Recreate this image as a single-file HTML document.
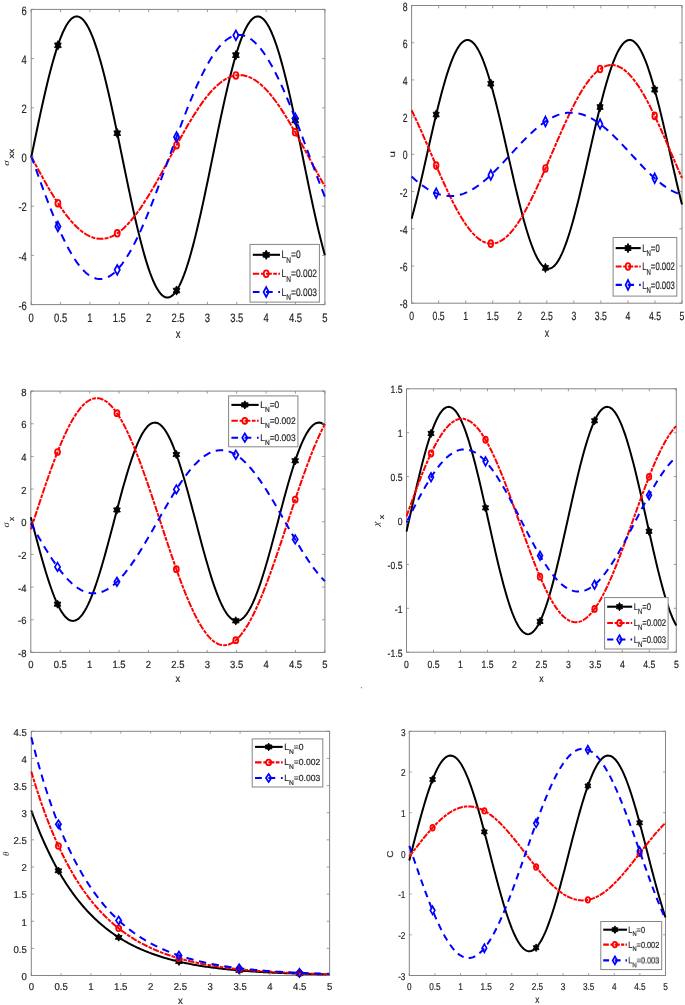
<!DOCTYPE html>
<html><head><meta charset="utf-8"><style>
html,body{margin:0;padding:0;background:#fff;}
svg{display:block;-webkit-font-smoothing:antialiased;text-rendering:geometricPrecision;}
text{font-family:"Liberation Sans", sans-serif;fill:#262626;stroke:#262626;stroke-width:0.2px;}
</style></head><body>
<svg width="685" height="1005" viewBox="0 0 685 1005" style="will-change:transform">
<defs><filter id="bl" x="0" y="0" width="100%" height="100%" color-interpolation-filters="sRGB"><feGaussianBlur stdDeviation="0.3"/></filter></defs>
<rect width="685" height="1005" fill="#fff"/>
<g filter="url(#bl)">
<rect width="685" height="1005" fill="#fff"/>
<rect x="31.20" y="9.40" width="293.70" height="295.20" fill="none" stroke="#858585" stroke-width="1"/>
<clipPath id="c0"><rect x="30.00" y="7.90" width="296.10" height="298.20"/></clipPath>
<path d="M31.20,157.54 L32.67,150.42 L34.14,143.31 L35.61,136.23 L37.07,129.21 L38.54,122.26 L40.01,115.40 L41.48,108.65 L42.95,102.02 L44.42,95.53 L45.88,89.20 L47.35,83.04 L48.82,77.07 L50.29,71.31 L51.76,65.77 L53.23,60.46 L54.70,55.40 L56.16,50.60 L57.63,46.08 L59.10,41.84 L60.57,37.90 L62.04,34.26 L63.51,30.94 L64.98,27.95 L66.44,25.28 L67.91,22.96 L69.38,20.98 L70.85,19.36 L72.32,18.08 L73.79,17.17 L75.25,16.61 L76.72,16.42 L78.19,16.59 L79.66,17.13 L81.13,18.02 L82.60,19.27 L84.07,20.88 L85.53,22.84 L87.00,25.15 L88.47,27.79 L89.94,30.77 L91.41,34.08 L92.88,37.70 L94.35,41.64 L95.81,45.87 L97.28,50.39 L98.75,55.18 L100.22,60.24 L101.69,65.55 L103.16,71.09 L104.62,76.86 L106.09,82.83 L107.56,89.00 L109.03,95.34 L110.50,101.84 L111.97,108.49 L113.44,115.26 L114.90,122.14 L116.37,129.11 L117.84,136.16 L119.31,143.26 L120.78,150.39 L122.25,157.54 L123.72,164.69 L125.18,171.82 L126.65,178.92 L128.12,185.95 L129.59,192.91 L131.06,199.78 L132.53,206.54 L134.00,213.17 L135.46,219.66 L136.93,225.98 L138.40,232.13 L139.87,238.08 L141.34,243.82 L142.81,249.34 L144.27,254.62 L145.74,259.64 L147.21,264.40 L148.68,268.88 L150.15,273.07 L151.62,276.96 L153.09,280.53 L154.55,283.79 L156.02,286.72 L157.49,289.31 L158.96,291.56 L160.43,293.46 L161.90,295.00 L163.36,296.19 L164.83,297.01 L166.30,297.47 L167.77,297.57 L169.24,297.30 L170.71,296.66 L172.18,295.67 L173.64,294.31 L175.11,292.59 L176.58,290.52 L178.05,288.11 L179.52,285.35 L180.99,282.26 L182.46,278.84 L183.92,275.11 L185.39,271.07 L186.86,266.73 L188.33,262.10 L189.80,257.20 L191.27,252.04 L192.73,246.63 L194.20,240.99 L195.67,235.13 L197.14,229.07 L198.61,222.81 L200.08,216.39 L201.55,209.81 L203.01,203.09 L204.48,196.25 L205.95,189.31 L207.42,182.28 L208.89,175.19 L210.36,168.05 L211.83,160.88 L213.29,153.70 L214.76,146.53 L216.23,139.38 L217.70,132.28 L219.17,125.25 L220.64,118.29 L222.10,111.44 L223.57,104.71 L225.04,98.11 L226.51,91.67 L227.98,85.39 L229.45,79.30 L230.92,73.42 L232.38,67.75 L233.85,62.32 L235.32,57.13 L236.79,52.21 L238.26,47.55 L239.73,43.19 L241.20,39.12 L242.66,35.36 L244.13,31.91 L245.60,28.80 L247.07,26.02 L248.54,23.58 L250.01,21.49 L251.47,19.75 L252.94,18.38 L254.41,17.36 L255.88,16.71 L257.35,16.43 L258.82,16.52 L260.29,16.98 L261.75,17.80 L263.22,18.99 L264.69,20.54 L266.16,22.44 L267.63,24.70 L269.10,27.31 L270.57,30.25 L272.03,33.53 L273.50,37.13 L274.97,41.05 L276.44,45.27 L277.91,49.79 L279.38,54.58 L280.84,59.65 L282.31,64.97 L283.78,70.53 L285.25,76.32 L286.72,82.32 L288.19,88.52 L289.66,94.90 L291.12,101.44 L292.59,108.13 L294.06,114.94 L295.53,121.87 L297.00,128.89 L298.47,135.99 L299.94,143.14 L301.40,150.32 L302.87,157.53 L304.34,164.73 L305.81,171.92 L307.28,179.06 L308.75,186.15 L310.21,193.16 L311.68,200.08 L313.15,206.88 L314.62,213.56 L316.09,220.08 L317.56,226.44 L319.03,232.62 L320.49,238.60 L321.96,244.36 L323.43,249.90 L324.90,255.19" fill="none" stroke="#000" stroke-width="2.0" stroke-linejoin="round" clip-path="url(#c0)"/>
<polygon points="57.90,40.69 56.74,42.90 54.55,42.99 55.58,45.29 54.55,47.59 56.74,47.69 57.90,49.89 59.06,47.69 61.24,47.59 60.22,45.29 61.24,42.99 59.06,42.90" fill="#000" stroke="#000" stroke-width="0.9"/>
<polygon points="117.23,128.62 116.07,130.83 113.88,130.92 114.91,133.22 113.88,135.52 116.07,135.61 117.23,137.82 118.39,135.61 120.58,135.52 119.55,133.22 120.58,130.92 118.39,130.83" fill="#000" stroke="#000" stroke-width="0.9"/>
<polygon points="176.56,285.95 175.40,288.16 173.22,288.25 174.25,290.55 173.22,292.85 175.40,292.94 176.56,295.15 177.72,292.94 179.91,292.85 178.88,290.55 179.91,288.25 177.72,288.16" fill="#000" stroke="#000" stroke-width="0.9"/>
<polygon points="235.90,50.57 234.74,52.78 232.55,52.87 233.58,55.17 232.55,57.47 234.74,57.56 235.90,59.77 237.06,57.56 239.24,57.47 238.22,55.17 239.24,52.87 237.06,52.78" fill="#000" stroke="#000" stroke-width="0.9"/>
<polygon points="295.23,115.85 294.07,118.06 291.88,118.15 292.91,120.45 291.88,122.75 294.07,122.84 295.23,125.05 296.39,122.84 298.58,122.75 297.55,120.45 298.58,118.15 296.39,118.06" fill="#000" stroke="#000" stroke-width="0.9"/>
<path d="M31.20,156.62 L32.67,159.33 L34.14,162.05 L35.61,164.76 L37.07,167.46 L38.54,170.15 L40.01,172.82 L41.48,175.48 L42.95,178.12 L44.42,180.73 L45.88,183.32 L47.35,185.88 L48.82,188.41 L50.29,190.90 L51.76,193.35 L53.23,195.77 L54.70,198.14 L56.16,200.47 L57.63,202.75 L59.10,204.98 L60.57,207.15 L62.04,209.28 L63.51,211.34 L64.98,213.34 L66.44,215.28 L67.91,217.16 L69.38,218.97 L70.85,220.72 L72.32,222.39 L73.79,223.99 L75.25,225.51 L76.72,226.97 L78.19,228.34 L79.66,229.64 L81.13,230.85 L82.60,231.98 L84.07,233.04 L85.53,234.00 L87.00,234.88 L88.47,235.68 L89.94,236.39 L91.41,237.01 L92.88,237.55 L94.35,237.99 L95.81,238.34 L97.28,238.61 L98.75,238.79 L100.22,238.87 L101.69,238.86 L103.16,238.77 L104.62,238.58 L106.09,238.31 L107.56,237.94 L109.03,237.49 L110.50,236.94 L111.97,236.31 L113.44,235.59 L114.90,234.78 L116.37,233.89 L117.84,232.91 L119.31,231.85 L120.78,230.70 L122.25,229.48 L123.72,228.17 L125.18,226.78 L126.65,225.32 L128.12,223.78 L129.59,222.17 L131.06,220.49 L132.53,218.73 L134.00,216.91 L135.46,215.02 L136.93,213.07 L138.40,211.06 L139.87,208.98 L141.34,206.85 L142.81,204.66 L144.27,202.42 L145.74,200.13 L147.21,197.79 L148.68,195.41 L150.15,192.98 L151.62,190.52 L153.09,188.01 L154.55,185.47 L156.02,182.91 L157.49,180.31 L158.96,177.68 L160.43,175.04 L161.90,172.37 L163.36,169.69 L164.83,166.99 L166.30,164.28 L167.77,161.56 L169.24,158.84 L170.71,156.12 L172.18,153.39 L173.64,150.67 L175.11,147.96 L176.58,145.26 L178.05,142.57 L179.52,139.89 L180.99,137.24 L182.46,134.61 L183.92,132.00 L185.39,129.42 L186.86,126.87 L188.33,124.35 L189.80,121.87 L191.27,119.43 L192.73,117.02 L194.20,114.67 L195.67,112.36 L197.14,110.10 L198.61,107.89 L200.08,105.74 L201.55,103.64 L203.01,101.60 L204.48,99.63 L205.95,97.71 L207.42,95.87 L208.89,94.09 L210.36,92.38 L211.83,90.74 L213.29,89.17 L214.76,87.68 L216.23,86.27 L217.70,84.94 L219.17,83.68 L220.64,82.51 L222.10,81.42 L223.57,80.41 L225.04,79.49 L226.51,78.65 L227.98,77.90 L229.45,77.24 L230.92,76.67 L232.38,76.19 L233.85,75.79 L235.32,75.49 L236.79,75.28 L238.26,75.15 L239.73,75.12 L241.20,75.18 L242.66,75.33 L244.13,75.57 L245.60,75.90 L247.07,76.32 L248.54,76.83 L250.01,77.43 L251.47,78.12 L252.94,78.90 L254.41,79.76 L255.88,80.71 L257.35,81.74 L258.82,82.86 L260.29,84.06 L261.75,85.34 L263.22,86.70 L264.69,88.14 L266.16,89.65 L267.63,91.24 L269.10,92.90 L270.57,94.64 L272.03,96.44 L273.50,98.31 L274.97,100.25 L276.44,102.25 L277.91,104.31 L279.38,106.43 L280.84,108.60 L282.31,110.83 L283.78,113.11 L285.25,115.44 L286.72,117.81 L288.19,120.23 L289.66,122.69 L291.12,125.19 L292.59,127.73 L294.06,130.29 L295.53,132.89 L297.00,135.51 L298.47,138.16 L299.94,140.83 L301.40,143.51 L302.87,146.21 L304.34,148.93 L305.81,151.65 L307.28,154.38 L308.75,157.11 L310.21,159.84 L311.68,162.57 L313.15,165.29 L314.62,168.00 L316.09,170.70 L317.56,173.39 L319.03,176.06 L320.49,178.70 L321.96,181.33 L323.43,183.92 L324.90,186.49" fill="none" stroke="#f00" stroke-width="2.0" stroke-linejoin="round" stroke-dasharray="7.00,1.20,4.00,1.20" clip-path="url(#c0)"/>
<ellipse cx="57.90" cy="203.15" rx="2.48" ry="3.35" fill="none" stroke="#f00" stroke-width="1.8"/>
<ellipse cx="117.23" cy="233.33" rx="2.48" ry="3.35" fill="none" stroke="#f00" stroke-width="1.8"/>
<ellipse cx="176.56" cy="145.29" rx="2.48" ry="3.35" fill="none" stroke="#f00" stroke-width="1.8"/>
<ellipse cx="235.90" cy="75.40" rx="2.48" ry="3.35" fill="none" stroke="#f00" stroke-width="1.8"/>
<ellipse cx="295.23" cy="132.36" rx="2.48" ry="3.35" fill="none" stroke="#f00" stroke-width="1.8"/>
<path d="M31.20,155.97 L32.67,160.10 L34.14,164.23 L35.61,168.35 L37.07,172.45 L38.54,176.53 L40.01,180.60 L41.48,184.63 L42.95,188.63 L44.42,192.59 L45.88,196.52 L47.35,200.39 L48.82,204.22 L50.29,207.99 L51.76,211.71 L53.23,215.36 L54.70,218.94 L56.16,222.45 L57.63,225.89 L59.10,229.24 L60.57,232.52 L62.04,235.71 L63.51,238.80 L64.98,241.81 L66.44,244.72 L67.91,247.52 L69.38,250.23 L70.85,252.83 L72.32,255.31 L73.79,257.69 L75.25,259.95 L76.72,262.10 L78.19,264.13 L79.66,266.03 L81.13,267.81 L82.60,269.47 L84.07,271.00 L85.53,272.40 L87.00,273.67 L88.47,274.80 L89.94,275.81 L91.41,276.68 L92.88,277.41 L94.35,278.01 L95.81,278.48 L97.28,278.81 L98.75,279.00 L100.22,279.05 L101.69,278.97 L103.16,278.74 L104.62,278.39 L106.09,277.89 L107.56,277.27 L109.03,276.50 L110.50,275.61 L111.97,274.58 L113.44,273.42 L114.90,272.12 L116.37,270.71 L117.84,269.16 L119.31,267.49 L120.78,265.70 L122.25,263.78 L123.72,261.75 L125.18,259.60 L126.65,257.33 L128.12,254.96 L129.59,252.48 L131.06,249.89 L132.53,247.19 L134.00,244.40 L135.46,241.52 L136.93,238.53 L138.40,235.46 L139.87,232.30 L141.34,229.06 L142.81,225.74 L144.27,222.35 L145.74,218.88 L147.21,215.35 L148.68,211.75 L150.15,208.09 L151.62,204.38 L153.09,200.61 L154.55,196.80 L156.02,192.94 L157.49,189.05 L158.96,185.12 L160.43,181.16 L161.90,177.17 L163.36,173.16 L164.83,169.14 L166.30,165.10 L167.77,161.06 L169.24,157.01 L170.71,152.97 L172.18,148.92 L173.64,144.89 L175.11,140.87 L176.58,136.88 L178.05,132.90 L179.52,128.95 L180.99,125.03 L182.46,121.15 L183.92,117.31 L185.39,113.51 L186.86,109.76 L188.33,106.07 L189.80,102.43 L191.27,98.85 L192.73,95.34 L194.20,91.89 L195.67,88.51 L197.14,85.21 L198.61,81.99 L200.08,78.86 L201.55,75.81 L203.01,72.84 L204.48,69.97 L205.95,67.20 L207.42,64.52 L208.89,61.94 L210.36,59.47 L211.83,57.11 L213.29,54.85 L214.76,52.71 L216.23,50.67 L217.70,48.76 L219.17,46.96 L220.64,45.28 L222.10,43.73 L223.57,42.29 L225.04,40.98 L226.51,39.80 L227.98,38.74 L229.45,37.82 L230.92,37.02 L232.38,36.35 L233.85,35.81 L235.32,35.40 L236.79,35.12 L238.26,34.97 L239.73,34.96 L241.20,35.08 L242.66,35.33 L244.13,35.70 L245.60,36.21 L247.07,36.85 L248.54,37.62 L250.01,38.52 L251.47,39.54 L252.94,40.69 L254.41,41.96 L255.88,43.36 L257.35,44.88 L258.82,46.52 L260.29,48.27 L261.75,50.14 L263.22,52.13 L264.69,54.23 L266.16,56.43 L267.63,58.75 L269.10,61.16 L270.57,63.68 L272.03,66.30 L273.50,69.02 L274.97,71.83 L276.44,74.72 L277.91,77.71 L279.38,80.78 L280.84,83.93 L282.31,87.15 L283.78,90.45 L285.25,93.82 L286.72,97.26 L288.19,100.76 L289.66,104.32 L291.12,107.93 L292.59,111.60 L294.06,115.31 L295.53,119.06 L297.00,122.86 L298.47,126.69 L299.94,130.55 L301.40,134.43 L302.87,138.34 L304.34,142.27 L305.81,146.22 L307.28,150.17 L308.75,154.13 L310.21,158.10 L311.68,162.06 L313.15,166.01 L314.62,169.96 L316.09,173.89 L317.56,177.80 L319.03,181.69 L320.49,185.55 L321.96,189.38 L323.43,193.18 L324.90,196.93" fill="none" stroke="#00f" stroke-width="2.0" stroke-linejoin="round" stroke-dasharray="8.00,6.00" clip-path="url(#c0)"/>
<polygon points="57.90,221.65 60.54,226.50 57.90,231.35 55.26,226.50" fill="none" stroke="#00f" stroke-width="1.7" stroke-linejoin="miter"/>
<polygon points="117.23,264.97 119.87,269.82 117.23,274.67 114.59,269.82" fill="none" stroke="#00f" stroke-width="1.7" stroke-linejoin="miter"/>
<polygon points="176.56,132.07 179.20,136.92 176.56,141.77 173.92,136.92" fill="none" stroke="#00f" stroke-width="1.7" stroke-linejoin="miter"/>
<polygon points="235.90,30.42 238.54,35.27 235.90,40.12 233.26,35.27" fill="none" stroke="#00f" stroke-width="1.7" stroke-linejoin="miter"/>
<polygon points="295.23,113.44 297.87,118.29 295.23,123.14 292.59,118.29" fill="none" stroke="#00f" stroke-width="1.7" stroke-linejoin="miter"/>
<path d="M31.20,304.60 V301.80 M31.20,9.40 V12.20" stroke="#858585" stroke-width="0.8"/>
<text x="0" y="0" font-size="12.20" text-anchor="middle" transform="translate(31.20,321.90) scale(0.774,1)">0</text>
<path d="M60.57,304.60 V301.80 M60.57,9.40 V12.20" stroke="#858585" stroke-width="0.8"/>
<text x="0" y="0" font-size="12.20" text-anchor="middle" transform="translate(60.57,321.90) scale(0.774,1)">0.5</text>
<path d="M89.94,304.60 V301.80 M89.94,9.40 V12.20" stroke="#858585" stroke-width="0.8"/>
<text x="0" y="0" font-size="12.20" text-anchor="middle" transform="translate(89.94,321.90) scale(0.774,1)">1</text>
<path d="M119.31,304.60 V301.80 M119.31,9.40 V12.20" stroke="#858585" stroke-width="0.8"/>
<text x="0" y="0" font-size="12.20" text-anchor="middle" transform="translate(119.31,321.90) scale(0.774,1)">1.5</text>
<path d="M148.68,304.60 V301.80 M148.68,9.40 V12.20" stroke="#858585" stroke-width="0.8"/>
<text x="0" y="0" font-size="12.20" text-anchor="middle" transform="translate(148.68,321.90) scale(0.774,1)">2</text>
<path d="M178.05,304.60 V301.80 M178.05,9.40 V12.20" stroke="#858585" stroke-width="0.8"/>
<text x="0" y="0" font-size="12.20" text-anchor="middle" transform="translate(178.05,321.90) scale(0.774,1)">2.5</text>
<path d="M207.42,304.60 V301.80 M207.42,9.40 V12.20" stroke="#858585" stroke-width="0.8"/>
<text x="0" y="0" font-size="12.20" text-anchor="middle" transform="translate(207.42,321.90) scale(0.774,1)">3</text>
<path d="M236.79,304.60 V301.80 M236.79,9.40 V12.20" stroke="#858585" stroke-width="0.8"/>
<text x="0" y="0" font-size="12.20" text-anchor="middle" transform="translate(236.79,321.90) scale(0.774,1)">3.5</text>
<path d="M266.16,304.60 V301.80 M266.16,9.40 V12.20" stroke="#858585" stroke-width="0.8"/>
<text x="0" y="0" font-size="12.20" text-anchor="middle" transform="translate(266.16,321.90) scale(0.774,1)">4</text>
<path d="M295.53,304.60 V301.80 M295.53,9.40 V12.20" stroke="#858585" stroke-width="0.8"/>
<text x="0" y="0" font-size="12.20" text-anchor="middle" transform="translate(295.53,321.90) scale(0.774,1)">4.5</text>
<path d="M324.90,304.60 V301.80 M324.90,9.40 V12.20" stroke="#858585" stroke-width="0.8"/>
<text x="0" y="0" font-size="12.20" text-anchor="middle" transform="translate(324.90,321.90) scale(0.774,1)">5</text>
<path d="M31.20,304.60 H34.00 M324.90,304.60 H322.10" stroke="#858585" stroke-width="0.8"/>
<text x="0" y="0" font-size="12.20" text-anchor="end" transform="translate(26.80,309.77) scale(0.774,1)">-6</text>
<path d="M31.20,255.40 H34.00 M324.90,255.40 H322.10" stroke="#858585" stroke-width="0.8"/>
<text x="0" y="0" font-size="12.20" text-anchor="end" transform="translate(26.80,260.57) scale(0.774,1)">-4</text>
<path d="M31.20,206.20 H34.00 M324.90,206.20 H322.10" stroke="#858585" stroke-width="0.8"/>
<text x="0" y="0" font-size="12.20" text-anchor="end" transform="translate(26.80,211.37) scale(0.774,1)">-2</text>
<path d="M31.20,157.00 H34.00 M324.90,157.00 H322.10" stroke="#858585" stroke-width="0.8"/>
<text x="0" y="0" font-size="12.20" text-anchor="end" transform="translate(26.80,162.17) scale(0.774,1)">0</text>
<path d="M31.20,107.80 H34.00 M324.90,107.80 H322.10" stroke="#858585" stroke-width="0.8"/>
<text x="0" y="0" font-size="12.20" text-anchor="end" transform="translate(26.80,112.97) scale(0.774,1)">2</text>
<path d="M31.20,58.60 H34.00 M324.90,58.60 H322.10" stroke="#858585" stroke-width="0.8"/>
<text x="0" y="0" font-size="12.20" text-anchor="end" transform="translate(26.80,63.77) scale(0.774,1)">4</text>
<path d="M31.20,9.40 H34.00 M324.90,9.40 H322.10" stroke="#858585" stroke-width="0.8"/>
<text x="0" y="0" font-size="12.20" text-anchor="end" transform="translate(26.80,14.57) scale(0.774,1)">6</text>
<text x="0" y="0" font-size="12.20" text-anchor="middle" transform="translate(178.05,338.20) scale(0.774,1)">x</text>
<g transform="translate(9.00,165.80) rotate(-90) scale(1,0.800)"><text x="0.00" y="0.00" font-size="10.80" style="font-family:'Liberation Serif';stroke:none" font-style="italic">&#963;</text><text x="7.20" y="5.88" font-size="9.80" >xx</text></g>
<rect x="250.00" y="244.40" width="69.40" height="57.70" fill="#fff" stroke="#858585" stroke-width="1"/>
<line x1="252.80" y1="254.80" x2="280.00" y2="254.80" stroke="#000" stroke-width="2.1"/>
<polygon points="266.20,250.20 265.04,252.41 262.85,252.50 263.88,254.80 262.85,257.10 265.04,257.19 266.20,259.40 267.36,257.19 269.55,257.10 268.52,254.80 269.55,252.50 267.36,252.41" fill="#000" stroke="#000" stroke-width="0.9"/>
<text x="0" y="0" font-size="10.80" transform="translate(281.60,258.40) scale(0.780,1)">L<tspan dy="4.60" font-size="8.40">N</tspan><tspan dy="-4.60">=0</tspan></text>
<path d="M252.80,273.70 H259.20 M261.00,273.70 H263.80 M265.90,273.70 H271.80 M273.20,273.70 H276.90 M278.40,273.70 H280.00" stroke="#f00" stroke-width="2.1"/>
<ellipse cx="266.20" cy="273.70" rx="2.48" ry="3.35" fill="none" stroke="#f00" stroke-width="1.8"/>
<text x="0" y="0" font-size="10.80" transform="translate(281.60,277.30) scale(0.780,1)">L<tspan dy="4.60" font-size="8.40">N</tspan><tspan dy="-4.60">=0.002</tspan></text>
<path d="M252.80,292.00 H259.50 M265.90,292.00 H272.70 M278.30,292.00 H280.00" stroke="#00f" stroke-width="2.1"/>
<polygon points="266.20,287.15 268.84,292.00 266.20,296.85 263.56,292.00" fill="none" stroke="#00f" stroke-width="1.7" stroke-linejoin="miter"/>
<text x="0" y="0" font-size="10.80" transform="translate(281.60,295.60) scale(0.780,1)">L<tspan dy="4.60" font-size="8.40">N</tspan><tspan dy="-4.60">=0.003</tspan></text>
<rect x="411.60" y="5.50" width="270.40" height="297.70" fill="none" stroke="#858585" stroke-width="1"/>
<clipPath id="c1"><rect x="410.40" y="4.00" width="272.80" height="300.70"/></clipPath>
<path d="M411.60,218.84 L412.95,213.79 L414.30,208.58 L415.66,203.22 L417.01,197.73 L418.36,192.12 L419.71,186.40 L421.06,180.59 L422.42,174.71 L423.77,168.78 L425.12,162.80 L426.47,156.81 L427.82,150.80 L429.18,144.81 L430.53,138.84 L431.88,132.92 L433.23,127.05 L434.58,121.26 L435.94,115.56 L437.29,109.97 L438.64,104.50 L439.99,99.17 L441.34,93.99 L442.70,88.98 L444.05,84.15 L445.40,79.51 L446.75,75.07 L448.10,70.86 L449.46,66.87 L450.81,63.13 L452.16,59.64 L453.51,56.41 L454.86,53.45 L456.22,50.76 L457.57,48.37 L458.92,46.26 L460.27,44.45 L461.62,42.94 L462.98,41.75 L464.33,40.86 L465.68,40.28 L467.03,40.02 L468.38,40.07 L469.74,40.44 L471.09,41.12 L472.44,42.11 L473.79,43.41 L475.14,45.01 L476.50,46.92 L477.85,49.12 L479.20,51.61 L480.55,54.39 L481.90,57.44 L483.26,60.75 L484.61,64.33 L485.96,68.15 L487.31,72.21 L488.66,76.49 L490.02,80.99 L491.37,85.69 L492.72,90.57 L494.07,95.64 L495.42,100.86 L496.78,106.23 L498.13,111.74 L499.48,117.36 L500.83,123.08 L502.18,128.89 L503.54,134.77 L504.89,140.70 L506.24,146.67 L507.59,152.66 L508.94,158.65 L510.30,164.63 L511.65,170.59 L513.00,176.50 L514.35,182.35 L515.70,188.12 L517.06,193.79 L518.41,199.36 L519.76,204.81 L521.11,210.12 L522.46,215.27 L523.82,220.26 L525.17,225.06 L526.52,229.67 L527.87,234.08 L529.22,238.26 L530.58,242.22 L531.93,245.93 L533.28,249.39 L534.63,252.59 L535.98,255.52 L537.34,258.18 L538.69,260.54 L540.04,262.62 L541.39,264.40 L542.74,265.87 L544.10,267.04 L545.45,267.91 L546.80,268.45 L548.15,268.69 L549.50,268.61 L550.86,268.22 L552.21,267.52 L553.56,266.50 L554.91,265.18 L556.26,263.56 L557.62,261.63 L558.97,259.41 L560.32,256.90 L561.67,254.11 L563.02,251.05 L564.38,247.72 L565.73,244.14 L567.08,240.31 L568.43,236.24 L569.78,231.95 L571.14,227.45 L572.49,222.75 L573.84,217.86 L575.19,212.79 L576.54,207.57 L577.90,202.20 L579.25,196.70 L580.60,191.08 L581.95,185.36 L583.30,179.56 L584.66,173.69 L586.01,167.76 L587.36,161.80 L588.71,155.82 L590.06,149.83 L591.42,143.86 L592.77,137.92 L594.12,132.02 L595.47,126.18 L596.82,120.42 L598.18,114.75 L599.53,109.19 L600.88,103.76 L602.23,98.46 L603.58,93.32 L604.94,88.35 L606.29,83.55 L607.64,78.95 L608.99,74.56 L610.34,70.38 L611.70,66.44 L613.05,62.73 L614.40,59.28 L615.75,56.08 L617.10,53.16 L618.46,50.51 L619.81,48.15 L621.16,46.08 L622.51,44.30 L623.86,42.83 L625.22,41.66 L626.57,40.80 L627.92,40.25 L629.27,40.01 L630.62,40.08 L631.98,40.47 L633.33,41.17 L634.68,42.18 L636.03,43.50 L637.38,45.11 L638.74,47.03 L640.09,49.24 L641.44,51.74 L642.79,54.52 L644.14,57.57 L645.50,60.89 L646.85,64.46 L648.20,68.28 L649.55,72.33 L650.90,76.61 L652.26,81.10 L653.61,85.79 L654.96,90.66 L656.31,95.72 L657.66,100.93 L659.02,106.28 L660.37,111.77 L661.72,117.38 L663.07,123.08 L664.42,128.87 L665.78,134.73 L667.13,140.65 L668.48,146.60 L669.83,152.57 L671.18,158.55 L672.54,164.51 L673.89,170.45 L675.24,176.34 L676.59,182.17 L677.94,187.93 L679.30,193.59 L680.65,199.15 L682.00,204.59" fill="none" stroke="#000" stroke-width="2.0" stroke-linejoin="round" clip-path="url(#c1)"/>
<polygon points="436.18,109.91 435.11,112.14 433.10,112.23 434.04,114.55 433.10,116.87 435.11,116.96 436.18,119.19 437.25,116.96 439.26,116.87 438.31,114.55 439.26,112.23 437.25,112.14" fill="#000" stroke="#000" stroke-width="0.9"/>
<polygon points="490.81,79.07 489.74,81.30 487.72,81.39 488.67,83.71 487.72,86.03 489.74,86.12 490.81,88.35 491.87,86.12 493.89,86.03 492.94,83.71 493.89,81.39 491.87,81.30" fill="#000" stroke="#000" stroke-width="0.9"/>
<polygon points="545.43,263.26 544.36,265.49 542.35,265.58 543.30,267.90 542.35,270.22 544.36,270.31 545.43,272.54 546.50,270.31 548.51,270.22 547.57,267.90 548.51,265.58 546.50,265.49" fill="#000" stroke="#000" stroke-width="0.9"/>
<polygon points="600.06,102.41 598.99,104.64 596.98,104.73 597.92,107.05 596.98,109.37 598.99,109.46 600.06,111.69 601.13,109.46 603.14,109.37 602.19,107.05 603.14,104.73 601.13,104.64" fill="#000" stroke="#000" stroke-width="0.9"/>
<polygon points="654.68,85.02 653.62,87.25 651.60,87.34 652.55,89.66 651.60,91.97 653.62,92.07 654.68,94.29 655.75,92.07 657.77,91.97 656.82,89.66 657.77,87.34 655.75,87.25" fill="#000" stroke="#000" stroke-width="0.9"/>
<path d="M411.60,110.26 L412.95,113.03 L414.30,115.86 L415.66,118.73 L417.01,121.65 L418.36,124.61 L419.71,127.60 L421.06,130.63 L422.42,133.69 L423.77,136.78 L425.12,139.88 L426.47,143.01 L427.82,146.15 L429.18,149.29 L430.53,152.45 L431.88,155.61 L433.23,158.76 L434.58,161.91 L435.94,165.05 L437.29,168.18 L438.64,171.29 L439.99,174.38 L441.34,177.45 L442.70,180.48 L444.05,183.48 L445.40,186.45 L446.75,189.37 L448.10,192.26 L449.46,195.09 L450.81,197.87 L452.16,200.60 L453.51,203.28 L454.86,205.89 L456.22,208.43 L457.57,210.91 L458.92,213.32 L460.27,215.65 L461.62,217.91 L462.98,220.09 L464.33,222.18 L465.68,224.19 L467.03,226.11 L468.38,227.95 L469.74,229.69 L471.09,231.34 L472.44,232.89 L473.79,234.34 L475.14,235.69 L476.50,236.95 L477.85,238.09 L479.20,239.14 L480.55,240.08 L481.90,240.91 L483.26,241.63 L484.61,242.24 L485.96,242.74 L487.31,243.14 L488.66,243.42 L490.02,243.59 L491.37,243.65 L492.72,243.60 L494.07,243.43 L495.42,243.16 L496.78,242.77 L498.13,242.28 L499.48,241.67 L500.83,240.95 L502.18,240.13 L503.54,239.20 L504.89,238.16 L506.24,237.02 L507.59,235.78 L508.94,234.43 L510.30,232.98 L511.65,231.44 L513.00,229.80 L514.35,228.06 L515.70,226.23 L517.06,224.32 L518.41,222.31 L519.76,220.22 L521.11,218.05 L522.46,215.80 L523.82,213.47 L525.17,211.07 L526.52,208.60 L527.87,206.06 L529.22,203.45 L530.58,200.78 L531.93,198.06 L533.28,195.28 L534.63,192.45 L535.98,189.57 L537.34,186.65 L538.69,183.69 L540.04,180.69 L541.39,177.66 L542.74,174.60 L544.10,171.52 L545.45,168.41 L546.80,165.28 L548.15,162.15 L549.50,159.00 L550.86,155.84 L552.21,152.69 L553.56,149.54 L554.91,146.39 L556.26,143.25 L557.62,140.13 L558.97,137.02 L560.32,133.94 L561.67,130.88 L563.02,127.85 L564.38,124.85 L565.73,121.89 L567.08,118.98 L568.43,116.10 L569.78,113.27 L571.14,110.50 L572.49,107.78 L573.84,105.12 L575.19,102.51 L576.54,99.98 L577.90,97.51 L579.25,95.11 L580.60,92.79 L581.95,90.54 L583.30,88.37 L584.66,86.29 L586.01,84.29 L587.36,82.38 L588.71,80.56 L590.06,78.83 L591.42,77.19 L592.77,75.65 L594.12,74.21 L595.47,72.87 L596.82,71.63 L598.18,70.49 L599.53,69.46 L600.88,68.53 L602.23,67.71 L603.58,67.00 L604.94,66.40 L606.29,65.91 L607.64,65.53 L608.99,65.26 L610.34,65.10 L611.70,65.05 L613.05,65.11 L614.40,65.29 L615.75,65.57 L617.10,65.97 L618.46,66.48 L619.81,67.09 L621.16,67.82 L622.51,68.65 L623.86,69.59 L625.22,70.64 L626.57,71.79 L627.92,73.04 L629.27,74.40 L630.62,75.85 L631.98,77.40 L633.33,79.05 L634.68,80.80 L636.03,82.63 L637.38,84.55 L638.74,86.56 L640.09,88.66 L641.44,90.84 L642.79,93.09 L644.14,95.42 L645.50,97.83 L646.85,100.31 L648.20,102.85 L649.55,105.46 L650.90,108.13 L652.26,110.86 L653.61,113.64 L654.96,116.47 L656.31,119.35 L657.66,122.27 L659.02,125.23 L660.37,128.23 L661.72,131.26 L663.07,134.32 L664.42,137.41 L665.78,140.51 L667.13,143.64 L668.48,146.78 L669.83,149.92 L671.18,153.07 L672.54,156.23 L673.89,159.38 L675.24,162.52 L676.59,165.66 L677.94,168.78 L679.30,171.88 L680.65,174.96 L682.00,178.01" fill="none" stroke="#f00" stroke-width="2.0" stroke-linejoin="round" stroke-dasharray="6.75,1.16,3.86,1.16" clip-path="url(#c1)"/>
<ellipse cx="436.18" cy="165.62" rx="2.28" ry="3.38" fill="none" stroke="#f00" stroke-width="1.8"/>
<ellipse cx="490.81" cy="243.64" rx="2.28" ry="3.38" fill="none" stroke="#f00" stroke-width="1.8"/>
<ellipse cx="545.43" cy="168.45" rx="2.28" ry="3.38" fill="none" stroke="#f00" stroke-width="1.8"/>
<ellipse cx="600.06" cy="69.08" rx="2.28" ry="3.38" fill="none" stroke="#f00" stroke-width="1.8"/>
<ellipse cx="654.68" cy="115.89" rx="2.28" ry="3.38" fill="none" stroke="#f00" stroke-width="1.8"/>
<path d="M411.60,176.55 L412.95,177.78 L414.30,178.98 L415.66,180.15 L417.01,181.29 L418.36,182.39 L419.71,183.46 L421.06,184.49 L422.42,185.49 L423.77,186.45 L425.12,187.36 L426.47,188.24 L427.82,189.07 L429.18,189.86 L430.53,190.61 L431.88,191.31 L433.23,191.97 L434.58,192.58 L435.94,193.14 L437.29,193.66 L438.64,194.12 L439.99,194.54 L441.34,194.91 L442.70,195.23 L444.05,195.49 L445.40,195.71 L446.75,195.87 L448.10,195.98 L449.46,196.04 L450.81,196.05 L452.16,196.01 L453.51,195.92 L454.86,195.77 L456.22,195.57 L457.57,195.33 L458.92,195.03 L460.27,194.68 L461.62,194.28 L462.98,193.83 L464.33,193.33 L465.68,192.79 L467.03,192.19 L468.38,191.55 L469.74,190.87 L471.09,190.13 L472.44,189.36 L473.79,188.54 L475.14,187.68 L476.50,186.77 L477.85,185.83 L479.20,184.85 L480.55,183.83 L481.90,182.77 L483.26,181.68 L484.61,180.55 L485.96,179.40 L487.31,178.21 L488.66,176.99 L490.02,175.74 L491.37,174.47 L492.72,173.17 L494.07,171.85 L495.42,170.50 L496.78,169.14 L498.13,167.76 L499.48,166.36 L500.83,164.94 L502.18,163.52 L503.54,162.08 L504.89,160.63 L506.24,159.18 L507.59,157.72 L508.94,156.25 L510.30,154.78 L511.65,153.31 L513.00,151.85 L514.35,150.38 L515.70,148.92 L517.06,147.47 L518.41,146.03 L519.76,144.59 L521.11,143.17 L522.46,141.76 L523.82,140.37 L525.17,139.00 L526.52,137.64 L527.87,136.31 L529.22,134.99 L530.58,133.70 L531.93,132.44 L533.28,131.21 L534.63,130.00 L535.98,128.82 L537.34,127.68 L538.69,126.56 L540.04,125.49 L541.39,124.44 L542.74,123.44 L544.10,122.47 L545.45,121.54 L546.80,120.66 L548.15,119.81 L549.50,119.01 L550.86,118.25 L552.21,117.54 L553.56,116.87 L554.91,116.25 L556.26,115.68 L557.62,115.15 L558.97,114.67 L560.32,114.25 L561.67,113.87 L563.02,113.54 L564.38,113.26 L565.73,113.04 L567.08,112.86 L568.43,112.74 L569.78,112.66 L571.14,112.64 L572.49,112.68 L573.84,112.76 L575.19,112.89 L576.54,113.08 L577.90,113.32 L579.25,113.61 L580.60,113.94 L581.95,114.33 L583.30,114.77 L584.66,115.26 L586.01,115.80 L587.36,116.38 L588.71,117.01 L590.06,117.69 L591.42,118.41 L592.77,119.18 L594.12,119.99 L595.47,120.84 L596.82,121.74 L598.18,122.68 L599.53,123.65 L600.88,124.67 L602.23,125.72 L603.58,126.80 L604.94,127.92 L606.29,129.07 L607.64,130.26 L608.99,131.47 L610.34,132.72 L611.70,133.98 L613.05,135.28 L614.40,136.60 L615.75,137.94 L617.10,139.30 L618.46,140.68 L619.81,142.08 L621.16,143.49 L622.51,144.91 L623.86,146.35 L625.22,147.80 L626.57,149.25 L627.92,150.71 L629.27,152.18 L630.62,153.65 L631.98,155.12 L633.33,156.59 L634.68,158.05 L636.03,159.51 L637.38,160.97 L638.74,162.42 L640.09,163.85 L641.44,165.28 L642.79,166.69 L644.14,168.08 L645.50,169.46 L646.85,170.82 L648.20,172.16 L649.55,173.48 L650.90,174.77 L652.26,176.04 L653.61,177.28 L654.96,178.50 L656.31,179.68 L657.66,180.83 L659.02,181.95 L660.37,183.04 L661.72,184.09 L663.07,185.10 L664.42,186.07 L665.78,187.01 L667.13,187.90 L668.48,188.75 L669.83,189.56 L671.18,190.33 L672.54,191.05 L673.89,191.72 L675.24,192.35 L676.59,192.93 L677.94,193.47 L679.30,193.95 L680.65,194.39 L682.00,194.78" fill="none" stroke="#00f" stroke-width="2.0" stroke-linejoin="round" stroke-dasharray="7.72,5.79" clip-path="url(#c1)"/>
<polygon points="436.18,188.35 438.61,193.24 436.18,198.13 433.75,193.24" fill="none" stroke="#00f" stroke-width="1.7" stroke-linejoin="miter"/>
<polygon points="490.81,170.11 493.24,175.00 490.81,179.89 488.38,175.00" fill="none" stroke="#00f" stroke-width="1.7" stroke-linejoin="miter"/>
<polygon points="545.43,116.66 547.86,121.56 545.43,126.45 543.00,121.56" fill="none" stroke="#00f" stroke-width="1.7" stroke-linejoin="miter"/>
<polygon points="600.06,119.15 602.49,124.04 600.06,128.94 597.63,124.04" fill="none" stroke="#00f" stroke-width="1.7" stroke-linejoin="miter"/>
<polygon points="654.68,173.36 657.11,178.25 654.68,183.14 652.25,178.25" fill="none" stroke="#00f" stroke-width="1.7" stroke-linejoin="miter"/>
<path d="M411.60,303.20 V300.38 M411.60,5.50 V8.32" stroke="#858585" stroke-width="0.8"/>
<text x="0" y="0" font-size="12.00" text-anchor="middle" transform="translate(411.60,320.24) scale(0.724,1)">0</text>
<path d="M438.64,303.20 V300.38 M438.64,5.50 V8.32" stroke="#858585" stroke-width="0.8"/>
<text x="0" y="0" font-size="12.00" text-anchor="middle" transform="translate(438.64,320.24) scale(0.724,1)">0.5</text>
<path d="M465.68,303.20 V300.38 M465.68,5.50 V8.32" stroke="#858585" stroke-width="0.8"/>
<text x="0" y="0" font-size="12.00" text-anchor="middle" transform="translate(465.68,320.24) scale(0.724,1)">1</text>
<path d="M492.72,303.20 V300.38 M492.72,5.50 V8.32" stroke="#858585" stroke-width="0.8"/>
<text x="0" y="0" font-size="12.00" text-anchor="middle" transform="translate(492.72,320.24) scale(0.724,1)">1.5</text>
<path d="M519.76,303.20 V300.38 M519.76,5.50 V8.32" stroke="#858585" stroke-width="0.8"/>
<text x="0" y="0" font-size="12.00" text-anchor="middle" transform="translate(519.76,320.24) scale(0.724,1)">2</text>
<path d="M546.80,303.20 V300.38 M546.80,5.50 V8.32" stroke="#858585" stroke-width="0.8"/>
<text x="0" y="0" font-size="12.00" text-anchor="middle" transform="translate(546.80,320.24) scale(0.724,1)">2.5</text>
<path d="M573.84,303.20 V300.38 M573.84,5.50 V8.32" stroke="#858585" stroke-width="0.8"/>
<text x="0" y="0" font-size="12.00" text-anchor="middle" transform="translate(573.84,320.24) scale(0.724,1)">3</text>
<path d="M600.88,303.20 V300.38 M600.88,5.50 V8.32" stroke="#858585" stroke-width="0.8"/>
<text x="0" y="0" font-size="12.00" text-anchor="middle" transform="translate(600.88,320.24) scale(0.724,1)">3.5</text>
<path d="M627.92,303.20 V300.38 M627.92,5.50 V8.32" stroke="#858585" stroke-width="0.8"/>
<text x="0" y="0" font-size="12.00" text-anchor="middle" transform="translate(627.92,320.24) scale(0.724,1)">4</text>
<path d="M654.96,303.20 V300.38 M654.96,5.50 V8.32" stroke="#858585" stroke-width="0.8"/>
<text x="0" y="0" font-size="12.00" text-anchor="middle" transform="translate(654.96,320.24) scale(0.724,1)">4.5</text>
<path d="M682.00,303.20 V300.38 M682.00,5.50 V8.32" stroke="#858585" stroke-width="0.8"/>
<text x="0" y="0" font-size="12.00" text-anchor="middle" transform="translate(682.00,320.24) scale(0.724,1)">5</text>
<path d="M411.60,303.20 H414.18 M682.00,303.20 H679.42" stroke="#858585" stroke-width="0.8"/>
<text x="0" y="0" font-size="12.00" text-anchor="end" transform="translate(407.55,308.30) scale(0.724,1)">-8</text>
<path d="M411.60,265.99 H414.18 M682.00,265.99 H679.42" stroke="#858585" stroke-width="0.8"/>
<text x="0" y="0" font-size="12.00" text-anchor="end" transform="translate(407.55,271.08) scale(0.724,1)">-6</text>
<path d="M411.60,228.77 H414.18 M682.00,228.77 H679.42" stroke="#858585" stroke-width="0.8"/>
<text x="0" y="0" font-size="12.00" text-anchor="end" transform="translate(407.55,233.87) scale(0.724,1)">-4</text>
<path d="M411.60,191.56 H414.18 M682.00,191.56 H679.42" stroke="#858585" stroke-width="0.8"/>
<text x="0" y="0" font-size="12.00" text-anchor="end" transform="translate(407.55,196.66) scale(0.724,1)">-2</text>
<path d="M411.60,154.35 H414.18 M682.00,154.35 H679.42" stroke="#858585" stroke-width="0.8"/>
<text x="0" y="0" font-size="12.00" text-anchor="end" transform="translate(407.55,159.45) scale(0.724,1)">0</text>
<path d="M411.60,117.14 H414.18 M682.00,117.14 H679.42" stroke="#858585" stroke-width="0.8"/>
<text x="0" y="0" font-size="12.00" text-anchor="end" transform="translate(407.55,122.23) scale(0.724,1)">2</text>
<path d="M411.60,79.93 H414.18 M682.00,79.93 H679.42" stroke="#858585" stroke-width="0.8"/>
<text x="0" y="0" font-size="12.00" text-anchor="end" transform="translate(407.55,85.02) scale(0.724,1)">4</text>
<path d="M411.60,42.71 H414.18 M682.00,42.71 H679.42" stroke="#858585" stroke-width="0.8"/>
<text x="0" y="0" font-size="12.00" text-anchor="end" transform="translate(407.55,47.81) scale(0.724,1)">6</text>
<path d="M411.60,5.50 H414.18 M682.00,5.50 H679.42" stroke="#858585" stroke-width="0.8"/>
<text x="0" y="0" font-size="12.00" text-anchor="end" transform="translate(407.55,10.60) scale(0.724,1)">8</text>
<text x="0" y="0" font-size="12.00" text-anchor="middle" transform="translate(546.80,336.70) scale(0.724,1)">x</text>
<g transform="translate(395.30,157.60) rotate(-90) scale(1,0.730)"><text x="0.00" y="0.00" font-size="11.50" >u</text></g>
<rect x="613.10" y="237.50" width="63.70" height="58.60" fill="#fff" stroke="#858585" stroke-width="1"/>
<line x1="615.68" y1="248.10" x2="640.72" y2="248.10" stroke="#000" stroke-width="2.1"/>
<polygon points="628.01,243.46 626.95,245.69 624.93,245.78 625.88,248.10 624.93,250.42 626.95,250.51 628.01,252.74 629.08,250.51 631.10,250.42 630.15,248.10 631.10,245.78 629.08,245.69" fill="#000" stroke="#000" stroke-width="0.9"/>
<text x="0" y="0" font-size="10.89" transform="translate(642.19,251.73) scale(0.712,1)">L<tspan dy="4.64" font-size="8.47">N</tspan><tspan dy="-4.64">=0</tspan></text>
<path d="M615.68,266.50 H621.57 M623.23,266.50 H625.81 M627.74,266.50 H633.17 M634.46,266.50 H637.87 M639.25,266.50 H640.72" stroke="#f00" stroke-width="2.1"/>
<ellipse cx="628.01" cy="266.50" rx="2.28" ry="3.38" fill="none" stroke="#f00" stroke-width="1.8"/>
<text x="0" y="0" font-size="10.89" transform="translate(642.19,270.13) scale(0.712,1)">L<tspan dy="4.64" font-size="8.47">N</tspan><tspan dy="-4.64">=0.002</tspan></text>
<path d="M615.68,284.90 H621.85 M627.74,284.90 H634.00 M639.15,284.90 H640.72" stroke="#00f" stroke-width="2.1"/>
<polygon points="628.01,280.01 630.45,284.90 628.01,289.79 625.58,284.90" fill="none" stroke="#00f" stroke-width="1.7" stroke-linejoin="miter"/>
<text x="0" y="0" font-size="10.89" transform="translate(642.19,288.53) scale(0.712,1)">L<tspan dy="4.64" font-size="8.47">N</tspan><tspan dy="-4.64">=0.003</tspan></text>
<rect x="30.80" y="391.10" width="294.10" height="261.30" fill="none" stroke="#858585" stroke-width="1"/>
<clipPath id="c2"><rect x="29.60" y="389.60" width="296.50" height="264.30"/></clipPath>
<path d="M30.80,517.32 L32.27,522.91 L33.74,528.50 L35.21,534.07 L36.68,539.60 L38.15,545.08 L39.62,550.48 L41.09,555.79 L42.56,560.99 L44.03,566.06 L45.50,570.99 L46.98,575.77 L48.45,580.37 L49.92,584.79 L51.39,589.01 L52.86,593.01 L54.33,596.79 L55.80,600.32 L57.27,603.61 L58.74,606.63 L60.21,609.39 L61.68,611.87 L63.15,614.05 L64.62,615.95 L66.09,617.54 L67.56,618.84 L69.03,619.82 L70.50,620.49 L71.97,620.84 L73.44,620.88 L74.91,620.60 L76.39,620.01 L77.86,619.11 L79.33,617.90 L80.80,616.38 L82.27,614.56 L83.74,612.44 L85.21,610.04 L86.68,607.36 L88.15,604.40 L89.62,601.18 L91.09,597.71 L92.56,593.99 L94.03,590.05 L95.50,585.89 L96.97,581.52 L98.44,576.97 L99.91,572.24 L101.38,567.35 L102.85,562.31 L104.32,557.15 L105.80,551.87 L107.27,546.50 L108.74,541.05 L110.21,535.54 L111.68,529.98 L113.15,524.40 L114.62,518.81 L116.09,513.23 L117.56,507.67 L119.03,502.16 L120.50,496.72 L121.97,491.35 L123.44,486.08 L124.91,480.92 L126.38,475.90 L127.85,471.02 L129.32,466.30 L130.79,461.75 L132.26,457.40 L133.73,453.25 L135.21,449.32 L136.68,445.62 L138.15,442.16 L139.62,438.96 L141.09,436.02 L142.56,433.35 L144.03,430.96 L145.50,428.86 L146.97,427.05 L148.44,425.55 L149.91,424.35 L151.38,423.46 L152.85,422.88 L154.32,422.62 L155.79,422.67 L157.26,423.03 L158.73,423.71 L160.20,424.70 L161.67,426.00 L163.14,427.60 L164.62,429.50 L166.09,431.70 L167.56,434.18 L169.03,436.94 L170.50,439.96 L171.97,443.25 L173.44,446.79 L174.91,450.56 L176.38,454.56 L177.85,458.77 L179.32,463.18 L180.79,467.78 L182.26,472.55 L183.73,477.47 L185.20,482.54 L186.67,487.73 L188.14,493.03 L189.61,498.42 L191.08,503.88 L192.55,509.40 L194.03,514.96 L195.50,520.54 L196.97,526.12 L198.44,531.69 L199.91,537.23 L201.38,542.72 L202.85,548.14 L204.32,553.48 L205.79,558.71 L207.26,563.83 L208.73,568.82 L210.20,573.66 L211.67,578.33 L213.14,582.82 L214.61,587.12 L216.08,591.21 L217.55,595.09 L219.02,598.73 L220.49,602.12 L221.97,605.26 L223.44,608.14 L224.91,610.74 L226.38,613.06 L227.85,615.09 L229.32,616.82 L230.79,618.26 L232.26,619.38 L233.73,620.20 L235.20,620.71 L236.67,620.90 L238.14,620.78 L239.61,620.34 L241.08,619.60 L242.55,618.54 L244.02,617.17 L245.49,615.51 L246.96,613.54 L248.43,611.29 L249.90,608.75 L251.37,605.94 L252.85,602.86 L254.32,599.52 L255.79,595.94 L257.26,592.12 L258.73,588.08 L260.20,583.83 L261.67,579.38 L263.14,574.76 L264.61,569.96 L266.08,565.01 L267.55,559.92 L269.02,554.72 L270.49,549.40 L271.96,544.01 L273.43,538.54 L274.90,533.02 L276.37,527.46 L277.84,521.88 L279.31,516.31 L280.78,510.75 L282.26,505.22 L283.73,499.75 L285.20,494.35 L286.67,489.04 L288.14,483.83 L289.61,478.74 L291.08,473.78 L292.55,468.98 L294.02,464.34 L295.49,459.89 L296.96,455.63 L298.43,451.58 L299.90,447.75 L301.37,444.16 L302.84,440.81 L304.31,437.72 L305.78,434.89 L307.25,432.34 L308.72,430.08 L310.19,428.10 L311.67,426.41 L313.14,425.03 L314.61,423.96 L316.08,423.19 L317.55,422.74 L319.02,422.60 L320.49,422.77 L321.96,423.26 L323.43,424.05 L324.90,425.16" fill="none" stroke="#000" stroke-width="2.0" stroke-linejoin="round" clip-path="url(#c2)"/>
<polygon points="57.53,600.10 56.37,602.06 54.18,602.14 55.21,604.17 54.18,606.21 56.37,606.29 57.53,608.24 58.69,606.29 60.88,606.21 59.86,604.17 60.88,602.14 58.69,602.06" fill="#000" stroke="#000" stroke-width="0.9"/>
<polygon points="116.95,505.91 115.79,507.86 113.60,507.94 114.63,509.98 113.60,512.02 115.79,512.10 116.95,514.05 118.11,512.10 120.30,512.02 119.27,509.98 120.30,507.94 118.11,507.86" fill="#000" stroke="#000" stroke-width="0.9"/>
<polygon points="176.36,450.44 175.20,452.39 173.01,452.47 174.04,454.51 173.01,456.54 175.20,456.62 176.36,458.58 177.52,456.62 179.71,456.54 178.68,454.51 179.71,452.47 177.52,452.39" fill="#000" stroke="#000" stroke-width="0.9"/>
<polygon points="235.78,616.75 234.62,618.70 232.43,618.78 233.45,620.82 232.43,622.86 234.62,622.94 235.78,624.89 236.94,622.94 239.13,622.86 238.10,620.82 239.13,618.78 236.94,618.70" fill="#000" stroke="#000" stroke-width="0.9"/>
<polygon points="295.19,456.71 294.03,458.66 291.84,458.74 292.87,460.78 291.84,462.82 294.03,462.90 295.19,464.85 296.35,462.90 298.54,462.82 297.51,460.78 298.54,458.74 296.35,458.66" fill="#000" stroke="#000" stroke-width="0.9"/>
<path d="M30.80,529.39 L32.27,524.89 L33.74,520.39 L35.21,515.90 L36.68,511.41 L38.15,506.93 L39.62,502.48 L41.09,498.05 L42.56,493.65 L44.03,489.29 L45.50,484.98 L46.98,480.71 L48.45,476.49 L49.92,472.34 L51.39,468.25 L52.86,464.24 L54.33,460.30 L55.80,456.44 L57.27,452.66 L58.74,448.98 L60.21,445.40 L61.68,441.92 L63.15,438.54 L64.62,435.27 L66.09,432.12 L67.56,429.09 L69.03,426.17 L70.50,423.39 L71.97,420.74 L73.44,418.21 L74.91,415.83 L76.39,413.59 L77.86,411.49 L79.33,409.53 L80.80,407.73 L82.27,406.07 L83.74,404.57 L85.21,403.22 L86.68,402.03 L88.15,401.00 L89.62,400.13 L91.09,399.42 L92.56,398.87 L94.03,398.48 L95.50,398.26 L96.97,398.19 L98.44,398.30 L99.91,398.56 L101.38,398.99 L102.85,399.58 L104.32,400.33 L105.80,401.24 L107.27,402.31 L108.74,403.54 L110.21,404.93 L111.68,406.46 L113.15,408.16 L114.62,410.00 L116.09,411.99 L117.56,414.12 L119.03,416.39 L120.50,418.81 L121.97,421.36 L123.44,424.04 L124.91,426.85 L126.38,429.79 L127.85,432.85 L129.32,436.02 L130.79,439.31 L132.26,442.70 L133.73,446.21 L135.21,449.81 L136.68,453.50 L138.15,457.29 L139.62,461.15 L141.09,465.10 L142.56,469.13 L144.03,473.22 L145.50,477.38 L146.97,481.59 L148.44,485.86 L149.91,490.18 L151.38,494.53 L152.85,498.93 L154.32,503.35 L155.79,507.80 L157.26,512.26 L158.73,516.74 L160.20,521.22 L161.67,525.71 L163.14,530.18 L164.62,534.65 L166.09,539.10 L167.56,543.53 L169.03,547.93 L170.50,552.29 L171.97,556.61 L173.44,560.89 L174.91,565.12 L176.38,569.29 L177.85,573.39 L179.32,577.43 L180.79,581.39 L182.26,585.28 L183.73,589.08 L185.20,592.79 L186.67,596.41 L188.14,599.94 L189.61,603.35 L191.08,606.66 L192.55,609.86 L194.03,612.95 L195.50,615.91 L196.97,618.75 L198.44,621.46 L199.91,624.04 L201.38,626.48 L202.85,628.79 L204.32,630.96 L205.79,632.98 L207.26,634.86 L208.73,636.59 L210.20,638.16 L211.67,639.59 L213.14,640.86 L214.61,641.97 L216.08,642.93 L217.55,643.72 L219.02,644.36 L220.49,644.83 L221.97,645.14 L223.44,645.29 L224.91,645.28 L226.38,645.11 L227.85,644.77 L229.32,644.27 L230.79,643.61 L232.26,642.80 L233.73,641.82 L235.20,640.68 L236.67,639.39 L238.14,637.95 L239.61,636.35 L241.08,634.60 L242.55,632.71 L244.02,630.66 L245.49,628.48 L246.96,626.15 L248.43,623.69 L249.90,621.10 L251.37,618.37 L252.85,615.52 L254.32,612.55 L255.79,609.45 L257.26,606.24 L258.73,602.92 L260.20,599.50 L261.67,595.97 L263.14,592.35 L264.61,588.63 L266.08,584.83 L267.55,580.94 L269.02,576.97 L270.49,572.94 L271.96,568.83 L273.43,564.67 L274.90,560.45 L276.37,556.18 L277.84,551.86 L279.31,547.50 L280.78,543.11 L282.26,538.70 L283.73,534.26 L285.20,529.80 L286.67,525.33 L288.14,520.86 L289.61,516.39 L291.08,511.93 L292.55,507.48 L294.02,503.05 L295.49,498.65 L296.96,494.27 L298.43,489.93 L299.90,485.63 L301.37,481.38 L302.84,477.19 L304.31,473.05 L305.78,468.97 L307.25,464.97 L308.72,461.04 L310.19,457.19 L311.67,453.42 L313.14,449.74 L314.61,446.16 L316.08,442.67 L317.55,439.29 L319.02,436.02 L320.49,432.86 L321.96,429.82 L323.43,426.89 L324.90,424.09" fill="none" stroke="#f00" stroke-width="2.0" stroke-linejoin="round" stroke-dasharray="6.60,1.13,3.77,1.13" clip-path="url(#c2)"/>
<ellipse cx="57.53" cy="452.00" rx="2.48" ry="2.97" fill="none" stroke="#f00" stroke-width="1.8"/>
<ellipse cx="116.95" cy="413.21" rx="2.48" ry="2.97" fill="none" stroke="#f00" stroke-width="1.8"/>
<ellipse cx="176.36" cy="569.24" rx="2.48" ry="2.97" fill="none" stroke="#f00" stroke-width="1.8"/>
<ellipse cx="235.78" cy="640.20" rx="2.48" ry="2.97" fill="none" stroke="#f00" stroke-width="1.8"/>
<ellipse cx="295.19" cy="499.54" rx="2.48" ry="2.97" fill="none" stroke="#f00" stroke-width="1.8"/>
<path d="M30.80,523.35 L32.27,525.95 L33.74,528.54 L35.21,531.12 L36.68,533.69 L38.15,536.24 L39.62,538.78 L41.09,541.29 L42.56,543.78 L44.03,546.23 L45.50,548.66 L46.98,551.05 L48.45,553.40 L49.92,555.71 L51.39,557.97 L52.86,560.19 L54.33,562.36 L55.80,564.47 L57.27,566.52 L58.74,568.52 L60.21,570.46 L61.68,572.33 L63.15,574.13 L64.62,575.87 L66.09,577.54 L67.56,579.13 L69.03,580.64 L70.50,582.08 L71.97,583.44 L73.44,584.72 L74.91,585.91 L76.39,587.02 L77.86,588.05 L79.33,588.99 L80.80,589.84 L82.27,590.60 L83.74,591.26 L85.21,591.84 L86.68,592.33 L88.15,592.72 L89.62,593.02 L91.09,593.23 L92.56,593.34 L94.03,593.36 L95.50,593.28 L96.97,593.11 L98.44,592.85 L99.91,592.49 L101.38,592.04 L102.85,591.50 L104.32,590.86 L105.80,590.14 L107.27,589.32 L108.74,588.42 L110.21,587.43 L111.68,586.35 L113.15,585.19 L114.62,583.94 L116.09,582.62 L117.56,581.21 L119.03,579.72 L120.50,578.16 L121.97,576.53 L123.44,574.82 L124.91,573.05 L126.38,571.20 L127.85,569.29 L129.32,567.32 L130.79,565.29 L132.26,563.20 L133.73,561.06 L135.21,558.87 L136.68,556.63 L138.15,554.34 L139.62,552.01 L141.09,549.64 L142.56,547.23 L144.03,544.79 L145.50,542.32 L146.97,539.82 L148.44,537.30 L149.91,534.76 L151.38,532.20 L152.85,529.63 L154.32,527.05 L155.79,524.46 L157.26,521.87 L158.73,519.28 L160.20,516.69 L161.67,514.10 L163.14,511.53 L164.62,508.97 L166.09,506.43 L167.56,503.91 L169.03,501.41 L170.50,498.94 L171.97,496.50 L173.44,494.09 L174.91,491.72 L176.38,489.38 L177.85,487.09 L179.32,484.85 L180.79,482.65 L182.26,480.50 L183.73,478.41 L185.20,476.38 L186.67,474.40 L188.14,472.49 L189.61,470.64 L191.08,468.86 L192.55,467.15 L194.03,465.51 L195.50,463.94 L196.97,462.45 L198.44,461.04 L199.91,459.70 L201.38,458.45 L202.85,457.28 L204.32,456.19 L205.79,455.20 L207.26,454.28 L208.73,453.46 L210.20,452.72 L211.67,452.08 L213.14,451.53 L214.61,451.06 L216.08,450.70 L217.55,450.42 L219.02,450.24 L220.49,450.15 L221.97,450.15 L223.44,450.25 L224.91,450.44 L226.38,450.73 L227.85,451.11 L229.32,451.58 L230.79,452.14 L232.26,452.79 L233.73,453.53 L235.20,454.37 L236.67,455.29 L238.14,456.29 L239.61,457.39 L241.08,458.56 L242.55,459.82 L244.02,461.16 L245.49,462.58 L246.96,464.08 L248.43,465.65 L249.90,467.30 L251.37,469.01 L252.85,470.80 L254.32,472.65 L255.79,474.57 L257.26,476.55 L258.73,478.58 L260.20,480.67 L261.67,482.82 L263.14,485.02 L264.61,487.26 L266.08,489.55 L267.55,491.89 L269.02,494.26 L270.49,496.66 L271.96,499.10 L273.43,501.57 L274.90,504.07 L276.37,506.59 L277.84,509.12 L279.31,511.68 L280.78,514.25 L282.26,516.82 L283.73,519.41 L285.20,521.99 L286.67,524.58 L288.14,527.16 L289.61,529.74 L291.08,532.30 L292.55,534.86 L294.02,537.39 L295.49,539.90 L296.96,542.39 L298.43,544.86 L299.90,547.29 L301.37,549.69 L302.84,552.05 L304.31,554.37 L305.78,556.65 L307.25,558.89 L308.72,561.07 L310.19,563.21 L311.67,565.29 L313.14,567.31 L314.61,569.28 L316.08,571.18 L317.55,573.02 L319.02,574.79 L320.49,576.49 L321.96,578.12 L323.43,579.68 L324.90,581.16" fill="none" stroke="#00f" stroke-width="2.0" stroke-linejoin="round" stroke-dasharray="7.55,5.66" clip-path="url(#c2)"/>
<polygon points="57.53,562.60 60.18,566.89 57.53,571.18 54.89,566.89" fill="none" stroke="#00f" stroke-width="1.7" stroke-linejoin="miter"/>
<polygon points="116.95,577.51 119.59,581.80 116.95,586.10 114.30,581.80" fill="none" stroke="#00f" stroke-width="1.7" stroke-linejoin="miter"/>
<polygon points="176.36,485.12 179.01,489.41 176.36,493.70 173.72,489.41" fill="none" stroke="#00f" stroke-width="1.7" stroke-linejoin="miter"/>
<polygon points="235.78,450.42 238.42,454.72 235.78,459.01 233.13,454.72" fill="none" stroke="#00f" stroke-width="1.7" stroke-linejoin="miter"/>
<polygon points="295.19,535.10 297.83,539.39 295.19,543.68 292.55,539.39" fill="none" stroke="#00f" stroke-width="1.7" stroke-linejoin="miter"/>
<path d="M30.80,652.40 V649.92 M30.80,391.10 V393.58" stroke="#858585" stroke-width="0.8"/>
<text x="0" y="0" font-size="10.40" text-anchor="middle" transform="translate(30.80,667.89) scale(0.909,1)">0</text>
<path d="M60.21,652.40 V649.92 M60.21,391.10 V393.58" stroke="#858585" stroke-width="0.8"/>
<text x="0" y="0" font-size="10.40" text-anchor="middle" transform="translate(60.21,667.89) scale(0.909,1)">0.5</text>
<path d="M89.62,652.40 V649.92 M89.62,391.10 V393.58" stroke="#858585" stroke-width="0.8"/>
<text x="0" y="0" font-size="10.40" text-anchor="middle" transform="translate(89.62,667.89) scale(0.909,1)">1</text>
<path d="M119.03,652.40 V649.92 M119.03,391.10 V393.58" stroke="#858585" stroke-width="0.8"/>
<text x="0" y="0" font-size="10.40" text-anchor="middle" transform="translate(119.03,667.89) scale(0.909,1)">1.5</text>
<path d="M148.44,652.40 V649.92 M148.44,391.10 V393.58" stroke="#858585" stroke-width="0.8"/>
<text x="0" y="0" font-size="10.40" text-anchor="middle" transform="translate(148.44,667.89) scale(0.909,1)">2</text>
<path d="M177.85,652.40 V649.92 M177.85,391.10 V393.58" stroke="#858585" stroke-width="0.8"/>
<text x="0" y="0" font-size="10.40" text-anchor="middle" transform="translate(177.85,667.89) scale(0.909,1)">2.5</text>
<path d="M207.26,652.40 V649.92 M207.26,391.10 V393.58" stroke="#858585" stroke-width="0.8"/>
<text x="0" y="0" font-size="10.40" text-anchor="middle" transform="translate(207.26,667.89) scale(0.909,1)">3</text>
<path d="M236.67,652.40 V649.92 M236.67,391.10 V393.58" stroke="#858585" stroke-width="0.8"/>
<text x="0" y="0" font-size="10.40" text-anchor="middle" transform="translate(236.67,667.89) scale(0.909,1)">3.5</text>
<path d="M266.08,652.40 V649.92 M266.08,391.10 V393.58" stroke="#858585" stroke-width="0.8"/>
<text x="0" y="0" font-size="10.40" text-anchor="middle" transform="translate(266.08,667.89) scale(0.909,1)">4</text>
<path d="M295.49,652.40 V649.92 M295.49,391.10 V393.58" stroke="#858585" stroke-width="0.8"/>
<text x="0" y="0" font-size="10.40" text-anchor="middle" transform="translate(295.49,667.89) scale(0.909,1)">4.5</text>
<path d="M324.90,652.40 V649.92 M324.90,391.10 V393.58" stroke="#858585" stroke-width="0.8"/>
<text x="0" y="0" font-size="10.40" text-anchor="middle" transform="translate(324.90,667.89) scale(0.909,1)">5</text>
<path d="M30.80,652.40 H33.60 M324.90,652.40 H322.10" stroke="#858585" stroke-width="0.8"/>
<text x="0" y="0" font-size="10.40" text-anchor="end" transform="translate(26.39,656.92) scale(0.909,1)">-8</text>
<path d="M30.80,619.74 H33.60 M324.90,619.74 H322.10" stroke="#858585" stroke-width="0.8"/>
<text x="0" y="0" font-size="10.40" text-anchor="end" transform="translate(26.39,624.26) scale(0.909,1)">-6</text>
<path d="M30.80,587.08 H33.60 M324.90,587.08 H322.10" stroke="#858585" stroke-width="0.8"/>
<text x="0" y="0" font-size="10.40" text-anchor="end" transform="translate(26.39,591.60) scale(0.909,1)">-4</text>
<path d="M30.80,554.41 H33.60 M324.90,554.41 H322.10" stroke="#858585" stroke-width="0.8"/>
<text x="0" y="0" font-size="10.40" text-anchor="end" transform="translate(26.39,558.94) scale(0.909,1)">-2</text>
<path d="M30.80,521.75 H33.60 M324.90,521.75 H322.10" stroke="#858585" stroke-width="0.8"/>
<text x="0" y="0" font-size="10.40" text-anchor="end" transform="translate(26.39,526.27) scale(0.909,1)">0</text>
<path d="M30.80,489.09 H33.60 M324.90,489.09 H322.10" stroke="#858585" stroke-width="0.8"/>
<text x="0" y="0" font-size="10.40" text-anchor="end" transform="translate(26.39,493.61) scale(0.909,1)">2</text>
<path d="M30.80,456.43 H33.60 M324.90,456.43 H322.10" stroke="#858585" stroke-width="0.8"/>
<text x="0" y="0" font-size="10.40" text-anchor="end" transform="translate(26.39,460.95) scale(0.909,1)">4</text>
<path d="M30.80,423.76 H33.60 M324.90,423.76 H322.10" stroke="#858585" stroke-width="0.8"/>
<text x="0" y="0" font-size="10.40" text-anchor="end" transform="translate(26.39,428.29) scale(0.909,1)">6</text>
<path d="M30.80,391.10 H33.60 M324.90,391.10 H322.10" stroke="#858585" stroke-width="0.8"/>
<text x="0" y="0" font-size="10.40" text-anchor="end" transform="translate(26.39,395.62) scale(0.909,1)">8</text>
<text x="0" y="0" font-size="10.40" text-anchor="middle" transform="translate(177.85,681.90) scale(0.909,1)">x</text>
<g transform="translate(9.00,527.40) rotate(-90) scale(1,0.905)"><text x="0.00" y="0.00" font-size="10.20" style="font-family:'Liberation Serif';stroke:none" font-style="italic">&#963;</text><text x="6.40" y="5.19" font-size="8.40" >x</text></g>
<rect x="228.60" y="395.90" width="69.30" height="50.90" fill="#fff" stroke="#858585" stroke-width="1"/>
<line x1="231.40" y1="404.90" x2="258.64" y2="404.90" stroke="#000" stroke-width="2.1"/>
<polygon points="244.82,400.83 243.66,402.78 241.47,402.86 242.50,404.90 241.47,406.94 243.66,407.02 244.82,408.97 245.98,407.02 248.17,406.94 247.14,404.90 248.17,402.86 245.98,402.78" fill="#000" stroke="#000" stroke-width="0.9"/>
<text x="0" y="0" font-size="9.56" transform="translate(260.24,408.09) scale(0.882,1)">L<tspan dy="4.07" font-size="7.44">N</tspan><tspan dy="-4.07">=0</tspan></text>
<path d="M231.40,420.80 H237.81 M239.61,420.80 H242.42 M244.52,420.80 H250.43 M251.83,420.80 H255.54 M257.04,420.80 H258.64" stroke="#f00" stroke-width="2.1"/>
<ellipse cx="244.82" cy="420.80" rx="2.48" ry="2.97" fill="none" stroke="#f00" stroke-width="1.8"/>
<text x="0" y="0" font-size="9.56" transform="translate(260.24,423.99) scale(0.882,1)">L<tspan dy="4.07" font-size="7.44">N</tspan><tspan dy="-4.07">=0.002</tspan></text>
<path d="M231.40,437.70 H238.11 M244.52,437.70 H251.33 M256.94,437.70 H258.64" stroke="#00f" stroke-width="2.1"/>
<polygon points="244.82,433.41 247.47,437.70 244.82,441.99 242.18,437.70" fill="none" stroke="#00f" stroke-width="1.7" stroke-linejoin="miter"/>
<text x="0" y="0" font-size="9.56" transform="translate(260.24,440.89) scale(0.882,1)">L<tspan dy="4.07" font-size="7.44">N</tspan><tspan dy="-4.07">=0.003</tspan></text>
<rect x="406.50" y="388.80" width="269.80" height="263.40" fill="none" stroke="#858585" stroke-width="1"/>
<clipPath id="c3"><rect x="405.30" y="387.30" width="272.20" height="266.40"/></clipPath>
<path d="M406.50,531.62 L407.85,525.57 L409.20,519.51 L410.55,513.45 L411.90,507.41 L413.25,501.41 L414.59,495.46 L415.94,489.58 L417.29,483.79 L418.64,478.11 L419.99,472.55 L421.34,467.12 L422.69,461.84 L424.04,456.73 L425.39,451.81 L426.74,447.07 L428.08,442.55 L429.43,438.25 L430.78,434.18 L432.13,430.36 L433.48,426.80 L434.83,423.50 L436.18,420.48 L437.53,417.74 L438.88,415.30 L440.23,413.15 L441.57,411.31 L442.92,409.78 L444.27,408.57 L445.62,407.68 L446.97,407.11 L448.32,406.86 L449.67,406.94 L451.02,407.34 L452.37,408.06 L453.71,409.10 L455.06,410.46 L456.41,412.13 L457.76,414.12 L459.11,416.40 L460.46,418.99 L461.81,421.86 L463.16,425.02 L464.51,428.44 L465.86,432.13 L467.20,436.07 L468.55,440.26 L469.90,444.67 L471.25,449.30 L472.60,454.13 L473.95,459.15 L475.30,464.35 L476.65,469.71 L478.00,475.21 L479.35,480.84 L480.69,486.59 L482.04,492.43 L483.39,498.35 L484.74,504.34 L486.09,510.37 L487.44,516.43 L488.79,522.50 L490.14,528.57 L491.49,534.61 L492.84,540.62 L494.19,546.57 L495.53,552.44 L496.88,558.22 L498.23,563.90 L499.58,569.45 L500.93,574.86 L502.28,580.11 L503.63,585.20 L504.98,590.10 L506.33,594.80 L507.67,599.29 L509.02,603.56 L510.37,607.58 L511.72,611.36 L513.07,614.88 L514.42,618.13 L515.77,621.10 L517.12,623.78 L518.47,626.17 L519.82,628.26 L521.16,630.03 L522.51,631.50 L523.86,632.64 L525.21,633.47 L526.56,633.97 L527.91,634.15 L529.26,634.00 L530.61,633.53 L531.96,632.74 L533.31,631.62 L534.65,630.19 L536.00,628.44 L537.35,626.38 L538.70,624.02 L540.05,621.36 L541.40,618.42 L542.75,615.19 L544.10,611.70 L545.45,607.94 L546.80,603.93 L548.14,599.68 L549.49,595.21 L550.84,590.52 L552.19,585.63 L553.54,580.55 L554.89,575.31 L556.24,569.90 L557.59,564.35 L558.94,558.68 L560.29,552.90 L561.63,547.02 L562.98,541.07 L564.33,535.06 L565.68,529.01 L567.03,522.93 L568.38,516.85 L569.73,510.77 L571.08,504.73 L572.43,498.73 L573.78,492.79 L575.12,486.93 L576.47,481.16 L577.82,475.51 L579.17,469.99 L580.52,464.61 L581.87,459.40 L583.22,454.35 L584.57,449.50 L585.92,444.85 L587.27,440.42 L588.62,436.22 L589.96,432.25 L591.31,428.55 L592.66,425.10 L594.01,421.93 L595.36,419.04 L596.71,416.45 L598.06,414.15 L599.41,412.15 L600.76,410.47 L602.11,409.11 L603.45,408.06 L604.80,407.33 L606.15,406.93 L607.50,406.86 L608.85,407.11 L610.20,407.69 L611.55,408.59 L612.90,409.82 L614.25,411.36 L615.60,413.21 L616.94,415.38 L618.29,417.84 L619.64,420.60 L620.99,423.65 L622.34,426.98 L623.69,430.57 L625.04,434.42 L626.39,438.52 L627.74,442.86 L629.08,447.42 L630.43,452.19 L631.78,457.15 L633.13,462.30 L634.48,467.62 L635.83,473.09 L637.18,478.69 L638.53,484.42 L639.88,490.24 L641.23,496.16 L642.57,502.15 L643.92,508.18 L645.27,514.26 L646.62,520.35 L647.97,526.44 L649.32,532.52 L650.67,538.56 L652.02,544.55 L653.37,550.47 L654.72,556.31 L656.06,562.04 L657.41,567.65 L658.76,573.13 L660.11,578.46 L661.46,583.62 L662.81,588.59 L664.16,593.38 L665.51,597.95 L666.86,602.30 L668.21,606.41 L669.55,610.28 L670.90,613.89 L672.25,617.23 L673.60,620.29 L674.95,623.06 L676.30,625.54" fill="none" stroke="#000" stroke-width="2.0" stroke-linejoin="round" clip-path="url(#c3)"/>
<polygon points="431.02,429.37 429.96,431.34 427.95,431.42 428.90,433.48 427.95,435.53 429.96,435.61 431.02,437.58 432.09,435.61 434.10,435.53 433.15,433.48 434.10,431.42 432.09,431.34" fill="#000" stroke="#000" stroke-width="0.9"/>
<polygon points="485.53,503.75 484.46,505.72 482.46,505.80 483.40,507.85 482.46,509.91 484.46,509.99 485.53,511.96 486.59,509.99 488.60,509.91 487.66,507.85 488.60,505.80 486.59,505.72" fill="#000" stroke="#000" stroke-width="0.9"/>
<polygon points="540.03,617.29 538.97,619.27 536.96,619.35 537.91,621.40 536.96,623.45 538.97,623.53 540.03,625.50 541.10,623.53 543.11,623.45 542.16,621.40 543.11,619.35 541.10,619.27" fill="#000" stroke="#000" stroke-width="0.9"/>
<polygon points="594.54,416.66 593.47,418.63 591.47,418.71 592.41,420.77 591.47,422.82 593.47,422.90 594.54,424.87 595.60,422.90 597.61,422.82 596.67,420.77 597.61,418.71 595.60,418.63" fill="#000" stroke="#000" stroke-width="0.9"/>
<polygon points="649.04,527.18 647.98,529.15 645.97,529.23 646.92,531.28 645.97,533.34 647.98,533.42 649.04,535.39 650.11,533.42 652.12,533.34 651.17,531.28 652.12,529.23 650.11,529.15" fill="#000" stroke="#000" stroke-width="0.9"/>
<path d="M406.50,516.31 L407.85,512.52 L409.20,508.74 L410.55,504.98 L411.90,501.25 L413.25,497.53 L414.59,493.86 L415.94,490.21 L417.29,486.61 L418.64,483.06 L419.99,479.56 L421.34,476.12 L422.69,472.74 L424.04,469.42 L425.39,466.18 L426.74,463.01 L428.08,459.92 L429.43,456.92 L430.78,454.01 L432.13,451.18 L433.48,448.46 L434.83,445.83 L436.18,443.31 L437.53,440.89 L438.88,438.59 L440.23,436.40 L441.57,434.33 L442.92,432.37 L444.27,430.54 L445.62,428.83 L446.97,427.26 L448.32,425.81 L449.67,424.49 L451.02,423.30 L452.37,422.25 L453.71,421.34 L455.06,420.57 L456.41,419.93 L457.76,419.43 L459.11,419.08 L460.46,418.86 L461.81,418.78 L463.16,418.85 L464.51,419.06 L465.86,419.41 L467.20,419.89 L468.55,420.52 L469.90,421.29 L471.25,422.19 L472.60,423.23 L473.95,424.41 L475.30,425.71 L476.65,427.15 L478.00,428.72 L479.35,430.42 L480.69,432.24 L482.04,434.18 L483.39,436.24 L484.74,438.42 L486.09,440.72 L487.44,443.12 L488.79,445.63 L490.14,448.24 L491.49,450.96 L492.84,453.77 L494.19,456.67 L495.53,459.66 L496.88,462.74 L498.23,465.89 L499.58,469.12 L500.93,472.43 L502.28,475.79 L503.63,479.22 L504.98,482.71 L506.33,486.25 L507.67,489.84 L509.02,493.47 L510.37,497.13 L511.72,500.83 L513.07,504.55 L514.42,508.30 L515.77,512.07 L517.12,515.84 L518.47,519.62 L519.82,523.41 L521.16,527.18 L522.51,530.95 L523.86,534.71 L525.21,538.44 L526.56,542.15 L527.91,545.83 L529.26,549.48 L530.61,553.08 L531.96,556.64 L533.31,560.15 L534.65,563.61 L536.00,567.00 L537.35,570.33 L538.70,573.59 L540.05,576.78 L541.40,579.89 L542.75,582.92 L544.10,585.86 L545.45,588.71 L546.80,591.47 L548.14,594.13 L549.49,596.68 L550.84,599.14 L552.19,601.48 L553.54,603.71 L554.89,605.83 L556.24,607.82 L557.59,609.70 L558.94,611.46 L560.29,613.08 L561.63,614.58 L562.98,615.96 L564.33,617.19 L565.68,618.30 L567.03,619.27 L568.38,620.11 L569.73,620.80 L571.08,621.36 L572.43,621.78 L573.78,622.06 L575.12,622.20 L576.47,622.20 L577.82,622.06 L579.17,621.78 L580.52,621.36 L581.87,620.80 L583.22,620.10 L584.57,619.26 L585.92,618.29 L587.27,617.18 L588.62,615.94 L589.96,614.57 L591.31,613.07 L592.66,611.45 L594.01,609.69 L595.36,607.82 L596.71,605.82 L598.06,603.71 L599.41,601.48 L600.76,599.14 L602.11,596.69 L603.45,594.14 L604.80,591.48 L606.15,588.73 L607.50,585.88 L608.85,582.95 L610.20,579.93 L611.55,576.82 L612.90,573.64 L614.25,570.39 L615.60,567.07 L616.94,563.68 L618.29,560.23 L619.64,556.73 L620.99,553.18 L622.34,549.59 L623.69,545.95 L625.04,542.29 L626.39,538.59 L627.74,534.86 L629.08,531.12 L630.43,527.36 L631.78,523.59 L633.13,519.82 L634.48,516.05 L635.83,512.29 L637.18,508.53 L638.53,504.80 L639.88,501.08 L641.23,497.39 L642.57,493.74 L643.92,490.12 L645.27,486.54 L646.62,483.01 L647.97,479.53 L649.32,476.11 L650.67,472.75 L652.02,469.45 L653.37,466.23 L654.72,463.08 L656.06,460.01 L657.41,457.02 L658.76,454.12 L660.11,451.31 L661.46,448.59 L662.81,445.98 L664.16,443.46 L665.51,441.06 L666.86,438.76 L668.21,436.57 L669.55,434.50 L670.90,432.55 L672.25,430.72 L673.60,429.01 L674.95,427.42 L676.30,425.97" fill="none" stroke="#f00" stroke-width="2.0" stroke-linejoin="round" stroke-dasharray="6.34,1.09,3.62,1.09" clip-path="url(#c3)"/>
<ellipse cx="431.02" cy="453.49" rx="2.28" ry="2.99" fill="none" stroke="#f00" stroke-width="1.8"/>
<ellipse cx="485.53" cy="439.75" rx="2.28" ry="2.99" fill="none" stroke="#f00" stroke-width="1.8"/>
<ellipse cx="540.03" cy="576.74" rx="2.28" ry="2.99" fill="none" stroke="#f00" stroke-width="1.8"/>
<ellipse cx="594.54" cy="608.97" rx="2.28" ry="2.99" fill="none" stroke="#f00" stroke-width="1.8"/>
<ellipse cx="649.04" cy="476.80" rx="2.28" ry="2.99" fill="none" stroke="#f00" stroke-width="1.8"/>
<path d="M406.50,522.36 L407.85,519.71 L409.20,517.05 L410.55,514.40 L411.90,511.75 L413.25,509.12 L414.59,506.51 L415.94,503.91 L417.29,501.34 L418.64,498.79 L419.99,496.28 L421.34,493.80 L422.69,491.36 L424.04,488.95 L425.39,486.60 L426.74,484.29 L428.08,482.03 L429.43,479.82 L430.78,477.67 L432.13,475.58 L433.48,473.56 L434.83,471.60 L436.18,469.71 L437.53,467.88 L438.88,466.14 L440.23,464.47 L441.57,462.87 L442.92,461.36 L444.27,459.93 L445.62,458.58 L446.97,457.32 L448.32,456.15 L449.67,455.07 L451.02,454.08 L452.37,453.18 L453.71,452.37 L455.06,451.66 L456.41,451.05 L457.76,450.53 L459.11,450.11 L460.46,449.79 L461.81,449.56 L463.16,449.43 L464.51,449.41 L465.86,449.48 L467.20,449.65 L468.55,449.92 L469.90,450.28 L471.25,450.75 L472.60,451.31 L473.95,451.96 L475.30,452.71 L476.65,453.56 L478.00,454.50 L479.35,455.53 L480.69,456.64 L482.04,457.85 L483.39,459.15 L484.74,460.53 L486.09,461.99 L487.44,463.53 L488.79,465.15 L490.14,466.85 L491.49,468.62 L492.84,470.47 L494.19,472.38 L495.53,474.36 L496.88,476.40 L498.23,478.50 L499.58,480.67 L500.93,482.88 L502.28,485.15 L503.63,487.47 L504.98,489.83 L506.33,492.23 L507.67,494.68 L509.02,497.16 L510.37,499.67 L511.72,502.21 L513.07,504.77 L514.42,507.36 L515.77,509.96 L517.12,512.58 L518.47,515.21 L519.82,517.84 L521.16,520.48 L522.51,523.12 L523.86,525.75 L525.21,528.38 L526.56,531.00 L527.91,533.60 L529.26,536.18 L530.61,538.75 L531.96,541.28 L533.31,543.79 L534.65,546.27 L536.00,548.70 L537.35,551.11 L538.70,553.46 L540.05,555.78 L541.40,558.04 L542.75,560.25 L544.10,562.41 L545.45,564.51 L546.80,566.55 L548.14,568.53 L549.49,570.43 L550.84,572.28 L552.19,574.04 L553.54,575.74 L554.89,577.36 L556.24,578.90 L557.59,580.36 L558.94,581.74 L560.29,583.04 L561.63,584.25 L562.98,585.37 L564.33,586.40 L565.68,587.34 L567.03,588.19 L568.38,588.95 L569.73,589.62 L571.08,590.18 L572.43,590.66 L573.78,591.04 L575.12,591.32 L576.47,591.50 L577.82,591.59 L579.17,591.58 L580.52,591.47 L581.87,591.26 L583.22,590.96 L584.57,590.57 L585.92,590.07 L587.27,589.48 L588.62,588.80 L589.96,588.02 L591.31,587.16 L592.66,586.20 L594.01,585.15 L595.36,584.01 L596.71,582.79 L598.06,581.48 L599.41,580.09 L600.76,578.61 L602.11,577.06 L603.45,575.43 L604.80,573.73 L606.15,571.95 L607.50,570.11 L608.85,568.19 L610.20,566.21 L611.55,564.17 L612.90,562.07 L614.25,559.92 L615.60,557.71 L616.94,555.45 L618.29,553.14 L619.64,550.79 L620.99,548.39 L622.34,545.96 L623.69,543.50 L625.04,541.00 L626.39,538.48 L627.74,535.93 L629.08,533.36 L630.43,530.78 L631.78,528.18 L633.13,525.57 L634.48,522.95 L635.83,520.33 L637.18,517.71 L638.53,515.09 L639.88,512.49 L641.23,509.89 L642.57,507.31 L643.92,504.74 L645.27,502.20 L646.62,499.68 L647.97,497.20 L649.32,494.74 L650.67,492.32 L652.02,489.93 L653.37,487.59 L654.72,485.29 L656.06,483.04 L657.41,480.85 L658.76,478.70 L660.11,476.61 L661.46,474.59 L662.81,472.62 L664.16,470.72 L665.51,468.89 L666.86,467.12 L668.21,465.43 L669.55,463.82 L670.90,462.28 L672.25,460.82 L673.60,459.44 L674.95,458.14 L676.30,456.93" fill="none" stroke="#00f" stroke-width="2.0" stroke-linejoin="round" stroke-dasharray="7.24,5.43" clip-path="url(#c3)"/>
<polygon points="431.02,472.97 433.45,477.29 431.02,481.62 428.60,477.29" fill="none" stroke="#00f" stroke-width="1.7" stroke-linejoin="miter"/>
<polygon points="485.53,457.04 487.95,461.37 485.53,465.70 483.10,461.37" fill="none" stroke="#00f" stroke-width="1.7" stroke-linejoin="miter"/>
<polygon points="540.03,551.42 542.46,555.75 540.03,560.08 537.61,555.75" fill="none" stroke="#00f" stroke-width="1.7" stroke-linejoin="miter"/>
<polygon points="594.54,580.39 596.96,584.71 594.54,589.04 592.11,584.71" fill="none" stroke="#00f" stroke-width="1.7" stroke-linejoin="miter"/>
<polygon points="649.04,490.91 651.47,495.24 649.04,499.56 646.62,495.24" fill="none" stroke="#00f" stroke-width="1.7" stroke-linejoin="miter"/>
<path d="M406.50,652.20 V649.70 M406.50,388.80 V391.30" stroke="#858585" stroke-width="0.8"/>
<text x="0" y="0" font-size="10.40" text-anchor="middle" transform="translate(406.50,667.81) scale(0.834,1)">0</text>
<path d="M433.48,652.20 V649.70 M433.48,388.80 V391.30" stroke="#858585" stroke-width="0.8"/>
<text x="0" y="0" font-size="10.40" text-anchor="middle" transform="translate(433.48,667.81) scale(0.834,1)">0.5</text>
<path d="M460.46,652.20 V649.70 M460.46,388.80 V391.30" stroke="#858585" stroke-width="0.8"/>
<text x="0" y="0" font-size="10.40" text-anchor="middle" transform="translate(460.46,667.81) scale(0.834,1)">1</text>
<path d="M487.44,652.20 V649.70 M487.44,388.80 V391.30" stroke="#858585" stroke-width="0.8"/>
<text x="0" y="0" font-size="10.40" text-anchor="middle" transform="translate(487.44,667.81) scale(0.834,1)">1.5</text>
<path d="M514.42,652.20 V649.70 M514.42,388.80 V391.30" stroke="#858585" stroke-width="0.8"/>
<text x="0" y="0" font-size="10.40" text-anchor="middle" transform="translate(514.42,667.81) scale(0.834,1)">2</text>
<path d="M541.40,652.20 V649.70 M541.40,388.80 V391.30" stroke="#858585" stroke-width="0.8"/>
<text x="0" y="0" font-size="10.40" text-anchor="middle" transform="translate(541.40,667.81) scale(0.834,1)">2.5</text>
<path d="M568.38,652.20 V649.70 M568.38,388.80 V391.30" stroke="#858585" stroke-width="0.8"/>
<text x="0" y="0" font-size="10.40" text-anchor="middle" transform="translate(568.38,667.81) scale(0.834,1)">3</text>
<path d="M595.36,652.20 V649.70 M595.36,388.80 V391.30" stroke="#858585" stroke-width="0.8"/>
<text x="0" y="0" font-size="10.40" text-anchor="middle" transform="translate(595.36,667.81) scale(0.834,1)">3.5</text>
<path d="M622.34,652.20 V649.70 M622.34,388.80 V391.30" stroke="#858585" stroke-width="0.8"/>
<text x="0" y="0" font-size="10.40" text-anchor="middle" transform="translate(622.34,667.81) scale(0.834,1)">4</text>
<path d="M649.32,652.20 V649.70 M649.32,388.80 V391.30" stroke="#858585" stroke-width="0.8"/>
<text x="0" y="0" font-size="10.40" text-anchor="middle" transform="translate(649.32,667.81) scale(0.834,1)">4.5</text>
<path d="M676.30,652.20 V649.70 M676.30,388.80 V391.30" stroke="#858585" stroke-width="0.8"/>
<text x="0" y="0" font-size="10.40" text-anchor="middle" transform="translate(676.30,667.81) scale(0.834,1)">5</text>
<path d="M406.50,652.20 H409.07 M676.30,652.20 H673.73" stroke="#858585" stroke-width="0.8"/>
<text x="0" y="0" font-size="10.40" text-anchor="end" transform="translate(402.46,656.72) scale(0.834,1)">-1.5</text>
<path d="M406.50,608.30 H409.07 M676.30,608.30 H673.73" stroke="#858585" stroke-width="0.8"/>
<text x="0" y="0" font-size="10.40" text-anchor="end" transform="translate(402.46,612.82) scale(0.834,1)">-1</text>
<path d="M406.50,564.40 H409.07 M676.30,564.40 H673.73" stroke="#858585" stroke-width="0.8"/>
<text x="0" y="0" font-size="10.40" text-anchor="end" transform="translate(402.46,568.92) scale(0.834,1)">-0.5</text>
<path d="M406.50,520.50 H409.07 M676.30,520.50 H673.73" stroke="#858585" stroke-width="0.8"/>
<text x="0" y="0" font-size="10.40" text-anchor="end" transform="translate(402.46,525.02) scale(0.834,1)">0</text>
<path d="M406.50,476.60 H409.07 M676.30,476.60 H673.73" stroke="#858585" stroke-width="0.8"/>
<text x="0" y="0" font-size="10.40" text-anchor="end" transform="translate(402.46,481.12) scale(0.834,1)">0.5</text>
<path d="M406.50,432.70 H409.07 M676.30,432.70 H673.73" stroke="#858585" stroke-width="0.8"/>
<text x="0" y="0" font-size="10.40" text-anchor="end" transform="translate(402.46,437.22) scale(0.834,1)">1</text>
<path d="M406.50,388.80 H409.07 M676.30,388.80 H673.73" stroke="#858585" stroke-width="0.8"/>
<text x="0" y="0" font-size="10.40" text-anchor="end" transform="translate(402.46,393.32) scale(0.834,1)">1.5</text>
<text x="0" y="0" font-size="10.40" text-anchor="middle" transform="translate(541.40,682.20) scale(0.834,1)">x</text>
<g transform="translate(379.30,526.30) rotate(-90) scale(1,0.824)"><text x="0.00" y="0.00" font-size="10.70" style="font-family:'Liberation Serif';stroke:none" font-style="italic">&#967;</text><text x="7.00" y="5.10" font-size="9.00" >x</text></g>
<rect x="604.60" y="597.60" width="63.50" height="51.40" fill="#fff" stroke="#858585" stroke-width="1"/>
<line x1="607.17" y1="606.70" x2="632.16" y2="606.70" stroke="#000" stroke-width="2.1"/>
<polygon points="619.48,602.60 618.42,604.57 616.41,604.65 617.35,606.70 616.41,608.75 618.42,608.83 619.48,610.80 620.55,608.83 622.56,608.75 621.61,606.70 622.56,604.65 620.55,604.57" fill="#000" stroke="#000" stroke-width="0.9"/>
<text x="0" y="0" font-size="9.64" transform="translate(633.63,609.91) scale(0.803,1)">L<tspan dy="4.10" font-size="7.50">N</tspan><tspan dy="-4.10">=0</tspan></text>
<path d="M607.17,623.00 H613.05 M614.70,623.00 H617.28 M619.21,623.00 H624.63 M625.91,623.00 H629.31 M630.69,623.00 H632.16" stroke="#f00" stroke-width="2.1"/>
<ellipse cx="619.48" cy="623.00" rx="2.28" ry="2.99" fill="none" stroke="#f00" stroke-width="1.8"/>
<text x="0" y="0" font-size="9.64" transform="translate(633.63,626.21) scale(0.803,1)">L<tspan dy="4.10" font-size="7.50">N</tspan><tspan dy="-4.10">=0.002</tspan></text>
<path d="M607.17,639.50 H613.33 M619.21,639.50 H625.45 M630.60,639.50 H632.16" stroke="#00f" stroke-width="2.1"/>
<polygon points="619.48,635.17 621.91,639.50 619.48,643.83 617.06,639.50" fill="none" stroke="#00f" stroke-width="1.7" stroke-linejoin="miter"/>
<text x="0" y="0" font-size="9.64" transform="translate(633.63,642.71) scale(0.803,1)">L<tspan dy="4.10" font-size="7.50">N</tspan><tspan dy="-4.10">=0.003</tspan></text>
<rect x="31.30" y="731.30" width="298.30" height="244.20" fill="none" stroke="#858585" stroke-width="1"/>
<clipPath id="c4"><rect x="30.10" y="729.80" width="300.70" height="247.20"/></clipPath>
<path d="M31.30,810.53 L32.79,814.60 L34.28,818.58 L35.77,822.45 L37.27,826.23 L38.76,829.91 L40.25,833.51 L41.74,837.01 L43.23,840.43 L44.72,843.77 L46.22,847.02 L47.71,850.19 L49.20,853.29 L50.69,856.30 L52.18,859.25 L53.67,862.12 L55.16,864.92 L56.66,867.65 L58.15,870.31 L59.64,872.91 L61.13,875.44 L62.62,877.91 L64.11,880.32 L65.60,882.67 L67.10,884.96 L68.59,887.20 L70.08,889.38 L71.57,891.50 L73.06,893.58 L74.55,895.60 L76.05,897.57 L77.54,899.50 L79.03,901.37 L80.52,903.20 L82.01,904.99 L83.50,906.73 L84.99,908.43 L86.49,910.08 L87.98,911.70 L89.47,913.27 L90.96,914.81 L92.45,916.31 L93.94,917.77 L95.43,919.20 L96.93,920.59 L98.42,921.94 L99.91,923.26 L101.40,924.55 L102.89,925.81 L104.38,927.04 L105.88,928.24 L107.37,929.40 L108.86,930.54 L110.35,931.65 L111.84,932.73 L113.33,933.79 L114.82,934.82 L116.32,935.82 L117.81,936.80 L119.30,937.76 L120.79,938.69 L122.28,939.60 L123.77,940.49 L125.26,941.35 L126.76,942.19 L128.25,943.02 L129.74,943.82 L131.23,944.60 L132.72,945.36 L134.21,946.11 L135.71,946.83 L137.20,947.54 L138.69,948.23 L140.18,948.90 L141.67,949.56 L143.16,950.20 L144.65,950.83 L146.15,951.43 L147.64,952.03 L149.13,952.61 L150.62,953.17 L152.11,953.72 L153.60,954.26 L155.09,954.79 L156.59,955.30 L158.08,955.80 L159.57,956.28 L161.06,956.76 L162.55,957.22 L164.04,957.67 L165.54,958.11 L167.03,958.54 L168.52,958.96 L170.01,959.37 L171.50,959.77 L172.99,960.16 L174.48,960.53 L175.98,960.90 L177.47,961.26 L178.96,961.62 L180.45,961.96 L181.94,962.29 L183.43,962.62 L184.92,962.94 L186.42,963.25 L187.91,963.55 L189.40,963.84 L190.89,964.13 L192.38,964.41 L193.87,964.69 L195.37,964.95 L196.86,965.21 L198.35,965.47 L199.84,965.72 L201.33,965.96 L202.82,966.19 L204.31,966.42 L205.81,966.65 L207.30,966.87 L208.79,967.08 L210.28,967.29 L211.77,967.49 L213.26,967.69 L214.75,967.88 L216.25,968.07 L217.74,968.25 L219.23,968.43 L220.72,968.61 L222.21,968.78 L223.70,968.94 L225.20,969.10 L226.69,969.26 L228.18,969.42 L229.67,969.57 L231.16,969.71 L232.65,969.86 L234.14,969.99 L235.64,970.13 L237.13,970.26 L238.62,970.39 L240.11,970.52 L241.60,970.64 L243.09,970.76 L244.58,970.88 L246.08,970.99 L247.57,971.10 L249.06,971.21 L250.55,971.32 L252.04,971.42 L253.53,971.52 L255.03,971.62 L256.52,971.72 L258.01,971.81 L259.50,971.90 L260.99,971.99 L262.48,972.08 L263.97,972.16 L265.47,972.24 L266.96,972.32 L268.45,972.40 L269.94,972.48 L271.43,972.55 L272.92,972.63 L274.41,972.70 L275.91,972.77 L277.40,972.83 L278.89,972.90 L280.38,972.96 L281.87,973.03 L283.36,973.09 L284.86,973.15 L286.35,973.20 L287.84,973.26 L289.33,973.32 L290.82,973.37 L292.31,973.42 L293.80,973.47 L295.30,973.52 L296.79,973.57 L298.28,973.62 L299.77,973.67 L301.26,973.71 L302.75,973.76 L304.24,973.80 L305.74,973.84 L307.23,973.88 L308.72,973.92 L310.21,973.96 L311.70,974.00 L313.19,974.04 L314.69,974.07 L316.18,974.11 L317.67,974.14 L319.16,974.18 L320.65,974.21 L322.14,974.24 L323.63,974.27 L325.13,974.30 L326.62,974.33 L328.11,974.36 L329.60,974.39" fill="none" stroke="#000" stroke-width="2.0" stroke-linejoin="round" clip-path="url(#c4)"/>
<polygon points="58.42,866.98 57.24,868.81 55.02,868.88 56.06,870.78 55.02,872.68 57.24,872.76 58.42,874.59 59.59,872.76 61.81,872.68 60.77,870.78 61.81,868.88 59.59,868.81" fill="#000" stroke="#000" stroke-width="0.9"/>
<polygon points="118.68,933.56 117.50,935.39 115.28,935.46 116.32,937.36 115.28,939.27 117.50,939.34 118.68,941.17 119.86,939.34 122.08,939.27 121.03,937.36 122.08,935.46 119.86,935.39" fill="#000" stroke="#000" stroke-width="0.9"/>
<polygon points="178.94,957.81 177.76,959.63 175.54,959.71 176.59,961.61 175.54,963.51 177.76,963.59 178.94,965.42 180.12,963.59 182.34,963.51 181.30,961.61 182.34,959.71 180.12,959.63" fill="#000" stroke="#000" stroke-width="0.9"/>
<polygon points="239.20,966.64 238.03,968.46 235.80,968.54 236.85,970.44 235.80,972.34 238.03,972.42 239.20,974.25 240.38,972.42 242.60,972.34 241.56,970.44 242.60,968.54 240.38,968.46" fill="#000" stroke="#000" stroke-width="0.9"/>
<polygon points="299.47,969.85 298.29,971.68 296.07,971.76 297.11,973.66 296.07,975.56 298.29,975.64 299.47,977.46 300.64,975.64 302.86,975.56 301.82,973.66 302.86,971.76 300.64,971.68" fill="#000" stroke="#000" stroke-width="0.9"/>
<path d="M31.30,771.46 L32.79,776.50 L34.28,781.41 L35.77,786.20 L37.27,790.87 L38.76,795.43 L40.25,799.88 L41.74,804.21 L43.23,808.44 L44.72,812.57 L46.22,816.59 L47.71,820.51 L49.20,824.34 L50.69,828.07 L52.18,831.71 L53.67,835.26 L55.16,838.73 L56.66,842.10 L58.15,845.40 L59.64,848.61 L61.13,851.74 L62.62,854.80 L64.11,857.78 L65.60,860.68 L67.10,863.52 L68.59,866.28 L70.08,868.98 L71.57,871.61 L73.06,874.18 L74.55,876.68 L76.05,879.12 L77.54,881.50 L79.03,883.82 L80.52,886.08 L82.01,888.29 L83.50,890.44 L84.99,892.54 L86.49,894.59 L87.98,896.59 L89.47,898.54 L90.96,900.44 L92.45,902.29 L93.94,904.10 L95.43,905.86 L96.93,907.58 L98.42,909.26 L99.91,910.89 L101.40,912.49 L102.89,914.04 L104.38,915.56 L105.88,917.04 L107.37,918.48 L108.86,919.89 L110.35,921.26 L111.84,922.60 L113.33,923.91 L114.82,925.18 L116.32,926.43 L117.81,927.64 L119.30,928.82 L120.79,929.97 L122.28,931.10 L123.77,932.19 L125.26,933.26 L126.76,934.30 L128.25,935.32 L129.74,936.31 L131.23,937.28 L132.72,938.22 L134.21,939.15 L135.71,940.04 L137.20,940.92 L138.69,941.77 L140.18,942.60 L141.67,943.42 L143.16,944.21 L144.65,944.98 L146.15,945.74 L147.64,946.47 L149.13,947.19 L150.62,947.89 L152.11,948.57 L153.60,949.23 L155.09,949.88 L156.59,950.51 L158.08,951.13 L159.57,951.73 L161.06,952.32 L162.55,952.89 L164.04,953.45 L165.54,953.99 L167.03,954.53 L168.52,955.04 L170.01,955.55 L171.50,956.04 L172.99,956.52 L174.48,956.99 L175.98,957.45 L177.47,957.89 L178.96,958.33 L180.45,958.75 L181.94,959.16 L183.43,959.57 L184.92,959.96 L186.42,960.35 L187.91,960.72 L189.40,961.08 L190.89,961.44 L192.38,961.79 L193.87,962.13 L195.37,962.46 L196.86,962.78 L198.35,963.09 L199.84,963.40 L201.33,963.70 L202.82,963.99 L204.31,964.27 L205.81,964.55 L207.30,964.82 L208.79,965.08 L210.28,965.34 L211.77,965.59 L213.26,965.84 L214.75,966.08 L216.25,966.31 L217.74,966.53 L219.23,966.76 L220.72,966.97 L222.21,967.18 L223.70,967.39 L225.20,967.59 L226.69,967.78 L228.18,967.97 L229.67,968.16 L231.16,968.34 L232.65,968.52 L234.14,968.69 L235.64,968.86 L237.13,969.02 L238.62,969.18 L240.11,969.34 L241.60,969.49 L243.09,969.64 L244.58,969.78 L246.08,969.92 L247.57,970.06 L249.06,970.20 L250.55,970.33 L252.04,970.46 L253.53,970.58 L255.03,970.70 L256.52,970.82 L258.01,970.94 L259.50,971.05 L260.99,971.16 L262.48,971.27 L263.97,971.37 L265.47,971.47 L266.96,971.57 L268.45,971.67 L269.94,971.76 L271.43,971.86 L272.92,971.95 L274.41,972.03 L275.91,972.12 L277.40,972.20 L278.89,972.28 L280.38,972.36 L281.87,972.44 L283.36,972.52 L284.86,972.59 L286.35,972.66 L287.84,972.73 L289.33,972.80 L290.82,972.87 L292.31,972.93 L293.80,972.99 L295.30,973.06 L296.79,973.12 L298.28,973.18 L299.77,973.23 L301.26,973.29 L302.75,973.34 L304.24,973.40 L305.74,973.45 L307.23,973.50 L308.72,973.55 L310.21,973.60 L311.70,973.64 L313.19,973.69 L314.69,973.73 L316.18,973.78 L317.67,973.82 L319.16,973.86 L320.65,973.90 L322.14,973.94 L323.63,973.98 L325.13,974.02 L326.62,974.05 L328.11,974.09 L329.60,974.13" fill="none" stroke="#f00" stroke-width="2.0" stroke-linejoin="round" stroke-dasharray="6.45,1.11,3.69,1.11" clip-path="url(#c4)"/>
<ellipse cx="58.42" cy="845.98" rx="2.52" ry="2.77" fill="none" stroke="#f00" stroke-width="1.8"/>
<ellipse cx="118.68" cy="928.33" rx="2.52" ry="2.77" fill="none" stroke="#f00" stroke-width="1.8"/>
<ellipse cx="178.94" cy="958.32" rx="2.52" ry="2.77" fill="none" stroke="#f00" stroke-width="1.8"/>
<ellipse cx="239.20" cy="969.24" rx="2.52" ry="2.77" fill="none" stroke="#f00" stroke-width="1.8"/>
<ellipse cx="299.47" cy="973.22" rx="2.52" ry="2.77" fill="none" stroke="#f00" stroke-width="1.8"/>
<path d="M31.30,737.27 L32.79,743.15 L34.28,748.89 L35.77,754.48 L37.27,759.94 L38.76,765.26 L40.25,770.45 L41.74,775.52 L43.23,780.45 L44.72,785.27 L46.22,789.97 L47.71,794.55 L49.20,799.01 L50.69,803.37 L52.18,807.62 L53.67,811.77 L55.16,815.81 L56.66,819.75 L58.15,823.60 L59.64,827.35 L61.13,831.01 L62.62,834.57 L64.11,838.05 L65.60,841.45 L67.10,844.76 L68.59,847.98 L70.08,851.13 L71.57,854.20 L73.06,857.20 L74.55,860.12 L76.05,862.97 L77.54,865.75 L79.03,868.46 L80.52,871.10 L82.01,873.68 L83.50,876.19 L84.99,878.64 L86.49,881.03 L87.98,883.37 L89.47,885.64 L90.96,887.86 L92.45,890.02 L93.94,892.13 L95.43,894.19 L96.93,896.20 L98.42,898.16 L99.91,900.07 L101.40,901.93 L102.89,903.75 L104.38,905.52 L105.88,907.25 L107.37,908.93 L108.86,910.57 L110.35,912.18 L111.84,913.74 L113.33,915.27 L114.82,916.75 L116.32,918.20 L117.81,919.62 L119.30,921.00 L120.79,922.34 L122.28,923.66 L123.77,924.94 L125.26,926.18 L126.76,927.40 L128.25,928.59 L129.74,929.75 L131.23,930.88 L132.72,931.98 L134.21,933.05 L135.71,934.10 L137.20,935.12 L138.69,936.12 L140.18,937.09 L141.67,938.04 L143.16,938.97 L144.65,939.87 L146.15,940.75 L147.64,941.61 L149.13,942.44 L150.62,943.26 L152.11,944.06 L153.60,944.83 L155.09,945.59 L156.59,946.33 L158.08,947.05 L159.57,947.75 L161.06,948.44 L162.55,949.10 L164.04,949.76 L165.54,950.39 L167.03,951.01 L168.52,951.62 L170.01,952.20 L171.50,952.78 L172.99,953.34 L174.48,953.89 L175.98,954.42 L177.47,954.94 L178.96,955.45 L180.45,955.94 L181.94,956.43 L183.43,956.90 L184.92,957.36 L186.42,957.81 L187.91,958.24 L189.40,958.67 L190.89,959.08 L192.38,959.49 L193.87,959.88 L195.37,960.27 L196.86,960.65 L198.35,961.01 L199.84,961.37 L201.33,961.72 L202.82,962.06 L204.31,962.39 L205.81,962.72 L207.30,963.03 L208.79,963.34 L210.28,963.64 L211.77,963.93 L213.26,964.22 L214.75,964.50 L216.25,964.77 L217.74,965.03 L219.23,965.29 L220.72,965.54 L222.21,965.79 L223.70,966.03 L225.20,966.26 L226.69,966.49 L228.18,966.71 L229.67,966.93 L231.16,967.14 L232.65,967.35 L234.14,967.55 L235.64,967.75 L237.13,967.94 L238.62,968.12 L240.11,968.31 L241.60,968.48 L243.09,968.66 L244.58,968.83 L246.08,968.99 L247.57,969.15 L249.06,969.31 L250.55,969.46 L252.04,969.61 L253.53,969.76 L255.03,969.90 L256.52,970.04 L258.01,970.17 L259.50,970.30 L260.99,970.43 L262.48,970.56 L263.97,970.68 L265.47,970.80 L266.96,970.91 L268.45,971.03 L269.94,971.14 L271.43,971.24 L272.92,971.35 L274.41,971.45 L275.91,971.55 L277.40,971.65 L278.89,971.74 L280.38,971.84 L281.87,971.93 L283.36,972.02 L284.86,972.10 L286.35,972.19 L287.84,972.27 L289.33,972.35 L290.82,972.43 L292.31,972.50 L293.80,972.58 L295.30,972.65 L296.79,972.72 L298.28,972.79 L299.77,972.85 L301.26,972.92 L302.75,972.98 L304.24,973.04 L305.74,973.11 L307.23,973.16 L308.72,973.22 L310.21,973.28 L311.70,973.33 L313.19,973.39 L314.69,973.44 L316.18,973.49 L317.67,973.54 L319.16,973.59 L320.65,973.64 L322.14,973.68 L323.63,973.73 L325.13,973.77 L326.62,973.81 L328.11,973.85 L329.60,973.89" fill="none" stroke="#00f" stroke-width="2.0" stroke-linejoin="round" stroke-dasharray="7.37,5.53" clip-path="url(#c4)"/>
<polygon points="58.42,820.27 61.10,824.28 58.42,828.29 55.73,824.28" fill="none" stroke="#00f" stroke-width="1.7" stroke-linejoin="miter"/>
<polygon points="118.68,916.42 121.36,920.43 118.68,924.44 116.00,920.43" fill="none" stroke="#00f" stroke-width="1.7" stroke-linejoin="miter"/>
<polygon points="178.94,951.43 181.62,955.44 178.94,959.46 176.26,955.44" fill="none" stroke="#00f" stroke-width="1.7" stroke-linejoin="miter"/>
<polygon points="239.20,964.18 241.88,968.20 239.20,972.21 236.52,968.20" fill="none" stroke="#00f" stroke-width="1.7" stroke-linejoin="miter"/>
<polygon points="299.47,968.83 302.15,972.84 299.47,976.85 296.78,972.84" fill="none" stroke="#00f" stroke-width="1.7" stroke-linejoin="miter"/>
<path d="M31.30,975.50 V973.18 M31.30,731.30 V733.62" stroke="#858585" stroke-width="0.8"/>
<text x="0" y="0" font-size="10.00" text-anchor="middle" transform="translate(31.30,989.98) scale(0.959,1)">0</text>
<path d="M61.13,975.50 V973.18 M61.13,731.30 V733.62" stroke="#858585" stroke-width="0.8"/>
<text x="0" y="0" font-size="10.00" text-anchor="middle" transform="translate(61.13,989.98) scale(0.959,1)">0.5</text>
<path d="M90.96,975.50 V973.18 M90.96,731.30 V733.62" stroke="#858585" stroke-width="0.8"/>
<text x="0" y="0" font-size="10.00" text-anchor="middle" transform="translate(90.96,989.98) scale(0.959,1)">1</text>
<path d="M120.79,975.50 V973.18 M120.79,731.30 V733.62" stroke="#858585" stroke-width="0.8"/>
<text x="0" y="0" font-size="10.00" text-anchor="middle" transform="translate(120.79,989.98) scale(0.959,1)">1.5</text>
<path d="M150.62,975.50 V973.18 M150.62,731.30 V733.62" stroke="#858585" stroke-width="0.8"/>
<text x="0" y="0" font-size="10.00" text-anchor="middle" transform="translate(150.62,989.98) scale(0.959,1)">2</text>
<path d="M180.45,975.50 V973.18 M180.45,731.30 V733.62" stroke="#858585" stroke-width="0.8"/>
<text x="0" y="0" font-size="10.00" text-anchor="middle" transform="translate(180.45,989.98) scale(0.959,1)">2.5</text>
<path d="M210.28,975.50 V973.18 M210.28,731.30 V733.62" stroke="#858585" stroke-width="0.8"/>
<text x="0" y="0" font-size="10.00" text-anchor="middle" transform="translate(210.28,989.98) scale(0.959,1)">3</text>
<path d="M240.11,975.50 V973.18 M240.11,731.30 V733.62" stroke="#858585" stroke-width="0.8"/>
<text x="0" y="0" font-size="10.00" text-anchor="middle" transform="translate(240.11,989.98) scale(0.959,1)">3.5</text>
<path d="M269.94,975.50 V973.18 M269.94,731.30 V733.62" stroke="#858585" stroke-width="0.8"/>
<text x="0" y="0" font-size="10.00" text-anchor="middle" transform="translate(269.94,989.98) scale(0.959,1)">4</text>
<path d="M299.77,975.50 V973.18 M299.77,731.30 V733.62" stroke="#858585" stroke-width="0.8"/>
<text x="0" y="0" font-size="10.00" text-anchor="middle" transform="translate(299.77,989.98) scale(0.959,1)">4.5</text>
<path d="M329.60,975.50 V973.18 M329.60,731.30 V733.62" stroke="#858585" stroke-width="0.8"/>
<text x="0" y="0" font-size="10.00" text-anchor="middle" transform="translate(329.60,989.98) scale(0.959,1)">5</text>
<path d="M31.30,975.50 H34.14 M329.60,975.50 H326.76" stroke="#858585" stroke-width="0.8"/>
<text x="0" y="0" font-size="10.00" text-anchor="end" transform="translate(26.83,979.88) scale(0.959,1)">0</text>
<path d="M31.30,948.37 H34.14 M329.60,948.37 H326.76" stroke="#858585" stroke-width="0.8"/>
<text x="0" y="0" font-size="10.00" text-anchor="end" transform="translate(26.83,952.75) scale(0.959,1)">0.5</text>
<path d="M31.30,921.23 H34.14 M329.60,921.23 H326.76" stroke="#858585" stroke-width="0.8"/>
<text x="0" y="0" font-size="10.00" text-anchor="end" transform="translate(26.83,925.61) scale(0.959,1)">1</text>
<path d="M31.30,894.10 H34.14 M329.60,894.10 H326.76" stroke="#858585" stroke-width="0.8"/>
<text x="0" y="0" font-size="10.00" text-anchor="end" transform="translate(26.83,898.48) scale(0.959,1)">1.5</text>
<path d="M31.30,866.97 H34.14 M329.60,866.97 H326.76" stroke="#858585" stroke-width="0.8"/>
<text x="0" y="0" font-size="10.00" text-anchor="end" transform="translate(26.83,871.35) scale(0.959,1)">2</text>
<path d="M31.30,839.83 H34.14 M329.60,839.83 H326.76" stroke="#858585" stroke-width="0.8"/>
<text x="0" y="0" font-size="10.00" text-anchor="end" transform="translate(26.83,844.21) scale(0.959,1)">2.5</text>
<path d="M31.30,812.70 H34.14 M329.60,812.70 H326.76" stroke="#858585" stroke-width="0.8"/>
<text x="0" y="0" font-size="10.00" text-anchor="end" transform="translate(26.83,817.08) scale(0.959,1)">3</text>
<path d="M31.30,785.57 H34.14 M329.60,785.57 H326.76" stroke="#858585" stroke-width="0.8"/>
<text x="0" y="0" font-size="10.00" text-anchor="end" transform="translate(26.83,789.95) scale(0.959,1)">3.5</text>
<path d="M31.30,758.43 H34.14 M329.60,758.43 H326.76" stroke="#858585" stroke-width="0.8"/>
<text x="0" y="0" font-size="10.00" text-anchor="end" transform="translate(26.83,762.81) scale(0.959,1)">4</text>
<path d="M31.30,731.30 H34.14 M329.60,731.30 H326.76" stroke="#858585" stroke-width="0.8"/>
<text x="0" y="0" font-size="10.00" text-anchor="end" transform="translate(26.83,735.68) scale(0.959,1)">4.5</text>
<text x="0" y="0" font-size="10.00" text-anchor="middle" transform="translate(180.45,1003.60) scale(0.959,1)">x</text>
<g transform="translate(8.70,856.00) rotate(-90) scale(1,0.982)"><text x="0.00" y="0.00" font-size="9.00" style="font-family:'Liberation Serif';stroke:none" font-style="italic">&#952;</text></g>
<rect x="252.20" y="738.90" width="70.60" height="48.10" fill="#fff" stroke="#858585" stroke-width="1"/>
<line x1="255.04" y1="746.90" x2="282.67" y2="746.90" stroke="#000" stroke-width="2.1"/>
<polygon points="268.65,743.09 267.48,744.92 265.25,745.00 266.30,746.90 265.25,748.80 267.48,748.88 268.65,750.71 269.83,748.88 272.05,748.80 271.01,746.90 272.05,745.00 269.83,744.92" fill="#000" stroke="#000" stroke-width="0.9"/>
<text x="0" y="0" font-size="8.93" transform="translate(284.29,749.88) scale(0.958,1)">L<tspan dy="3.81" font-size="6.95">N</tspan><tspan dy="-3.81">=0</tspan></text>
<path d="M255.04,762.40 H261.54 M263.37,762.40 H266.22 M268.35,762.40 H274.34 M275.76,762.40 H279.52 M281.04,762.40 H282.67" stroke="#f00" stroke-width="2.1"/>
<ellipse cx="268.65" cy="762.40" rx="2.52" ry="2.77" fill="none" stroke="#f00" stroke-width="1.8"/>
<text x="0" y="0" font-size="8.93" transform="translate(284.29,765.38) scale(0.958,1)">L<tspan dy="3.81" font-size="6.95">N</tspan><tspan dy="-3.81">=0.002</tspan></text>
<path d="M255.04,778.00 H261.85 M268.35,778.00 H275.26 M280.94,778.00 H282.67" stroke="#00f" stroke-width="2.1"/>
<polygon points="268.65,773.99 271.34,778.00 268.65,782.01 265.97,778.00" fill="none" stroke="#00f" stroke-width="1.7" stroke-linejoin="miter"/>
<text x="0" y="0" font-size="8.93" transform="translate(284.29,780.98) scale(0.958,1)">L<tspan dy="3.81" font-size="6.95">N</tspan><tspan dy="-3.81">=0.003</tspan></text>
<rect x="409.30" y="731.30" width="256.20" height="244.20" fill="none" stroke="#858585" stroke-width="1"/>
<clipPath id="c5"><rect x="408.10" y="729.80" width="258.60" height="247.20"/></clipPath>
<path d="M409.30,860.48 L410.58,855.49 L411.86,850.49 L413.14,845.50 L414.42,840.54 L415.70,835.60 L416.99,830.71 L418.27,825.88 L419.55,821.13 L420.83,816.45 L422.11,811.88 L423.39,807.41 L424.67,803.06 L425.95,798.84 L427.23,794.77 L428.51,790.85 L429.80,787.09 L431.08,783.50 L432.36,780.10 L433.64,776.89 L434.92,773.87 L436.20,771.07 L437.48,768.48 L438.76,766.11 L440.04,763.97 L441.32,762.06 L442.61,760.39 L443.89,758.96 L445.17,757.78 L446.45,756.85 L447.73,756.17 L449.01,755.75 L450.29,755.57 L451.57,755.66 L452.85,756.00 L454.13,756.59 L455.42,757.43 L456.70,758.53 L457.98,759.87 L459.26,761.46 L460.54,763.28 L461.82,765.34 L463.10,767.64 L464.38,770.15 L465.66,772.88 L466.94,775.82 L468.23,778.97 L469.51,782.30 L470.79,785.83 L472.07,789.53 L473.35,793.39 L474.63,797.41 L475.91,801.58 L477.19,805.88 L478.47,810.31 L479.75,814.85 L481.04,819.49 L482.32,824.22 L483.60,829.02 L484.88,833.89 L486.16,838.81 L487.44,843.76 L488.72,848.74 L490.00,853.74 L491.28,858.73 L492.56,863.71 L493.85,868.66 L495.13,873.57 L496.41,878.43 L497.69,883.23 L498.97,887.94 L500.25,892.57 L501.53,897.09 L502.81,901.50 L504.09,905.79 L505.38,909.94 L506.66,913.94 L507.94,917.78 L509.22,921.46 L510.50,924.95 L511.78,928.27 L513.06,931.38 L514.34,934.30 L515.62,937.00 L516.90,939.48 L518.18,941.74 L519.47,943.77 L520.75,945.57 L522.03,947.12 L523.31,948.43 L524.59,949.49 L525.87,950.30 L527.15,950.86 L528.43,951.17 L529.71,951.22 L531.00,951.01 L532.28,950.56 L533.56,949.84 L534.84,948.88 L536.12,947.67 L537.40,946.21 L538.68,944.51 L539.96,942.57 L541.24,940.41 L542.52,938.01 L543.81,935.39 L545.09,932.56 L546.37,929.53 L547.65,926.29 L548.93,922.87 L550.21,919.27 L551.49,915.49 L552.77,911.55 L554.05,907.46 L555.33,903.23 L556.62,898.87 L557.90,894.39 L559.18,889.80 L560.46,885.12 L561.74,880.36 L563.02,875.53 L564.30,870.64 L565.58,865.70 L566.86,860.73 L568.14,855.75 L569.42,850.75 L570.71,845.77 L571.99,840.80 L573.27,835.87 L574.55,830.98 L575.83,826.15 L577.11,821.40 L578.39,816.72 L579.67,812.14 L580.95,807.67 L582.24,803.32 L583.52,799.10 L584.80,795.01 L586.08,791.09 L587.36,787.32 L588.64,783.73 L589.92,780.31 L591.20,777.09 L592.48,774.07 L593.76,771.25 L595.04,768.65 L596.33,766.26 L597.61,764.11 L598.89,762.19 L600.17,760.50 L601.45,759.06 L602.73,757.86 L604.01,756.91 L605.29,756.21 L606.57,755.77 L607.86,755.58 L609.14,755.64 L610.42,755.96 L611.70,756.53 L612.98,757.36 L614.26,758.43 L615.54,759.75 L616.82,761.32 L618.10,763.13 L619.38,765.17 L620.66,767.44 L621.95,769.93 L623.23,772.64 L624.51,775.56 L625.79,778.69 L627.07,782.00 L628.35,785.51 L629.63,789.19 L630.91,793.04 L632.19,797.04 L633.48,801.19 L634.76,805.48 L636.04,809.90 L637.32,814.42 L638.60,819.05 L639.88,823.76 L641.16,828.56 L642.44,833.42 L643.72,838.33 L645.00,843.28 L646.28,848.25 L647.57,853.24 L648.85,858.23 L650.13,863.21 L651.41,868.16 L652.69,873.07 L653.97,877.93 L655.25,882.73 L656.53,887.45 L657.81,892.08 L659.10,896.62 L660.38,901.04 L661.66,905.33 L662.94,909.49 L664.22,913.51 L665.50,917.36" fill="none" stroke="#000" stroke-width="2.0" stroke-linejoin="round" clip-path="url(#c5)"/>
<polygon points="432.59,775.70 431.58,777.53 429.67,777.60 430.57,779.51 429.67,781.41 431.58,781.48 432.59,783.31 433.60,781.48 435.51,781.41 434.61,779.51 435.51,777.60 433.60,777.53" fill="#000" stroke="#000" stroke-width="0.9"/>
<polygon points="484.35,828.05 483.33,829.88 481.43,829.95 482.32,831.86 481.43,833.76 483.33,833.83 484.35,835.66 485.36,833.83 487.27,833.76 486.37,831.86 487.27,829.95 485.36,829.88" fill="#000" stroke="#000" stroke-width="0.9"/>
<polygon points="536.10,943.88 535.09,945.71 533.18,945.78 534.08,947.68 533.18,949.59 535.09,949.66 536.10,951.49 537.11,949.66 539.02,949.59 538.13,947.68 539.02,945.78 537.11,945.71" fill="#000" stroke="#000" stroke-width="0.9"/>
<polygon points="587.86,782.08 586.85,783.91 584.94,783.99 585.84,785.89 584.94,787.79 586.85,787.87 587.86,789.70 588.87,787.87 590.78,787.79 589.88,785.89 590.78,783.99 588.87,783.91" fill="#000" stroke="#000" stroke-width="0.9"/>
<polygon points="639.62,818.99 638.61,820.82 636.70,820.89 637.60,822.80 636.70,824.70 638.61,824.77 639.62,826.60 640.63,824.77 642.54,824.70 641.64,822.80 642.54,820.89 640.63,820.82" fill="#000" stroke="#000" stroke-width="0.9"/>
<path d="M409.30,856.53 L410.58,854.87 L411.86,853.20 L413.14,851.54 L414.42,849.87 L415.70,848.21 L416.99,846.56 L418.27,844.92 L419.55,843.29 L420.83,841.67 L422.11,840.06 L423.39,838.47 L424.67,836.90 L425.95,835.36 L427.23,833.83 L428.51,832.33 L429.80,830.85 L431.08,829.41 L432.36,827.99 L433.64,826.61 L434.92,825.26 L436.20,823.94 L437.48,822.66 L438.76,821.43 L440.04,820.23 L441.32,819.07 L442.61,817.95 L443.89,816.89 L445.17,815.86 L446.45,814.88 L447.73,813.96 L449.01,813.08 L450.29,812.25 L451.57,811.47 L452.85,810.75 L454.13,810.08 L455.42,809.46 L456.70,808.90 L457.98,808.40 L459.26,807.95 L460.54,807.55 L461.82,807.22 L463.10,806.94 L464.38,806.73 L465.66,806.57 L466.94,806.46 L468.23,806.42 L469.51,806.44 L470.79,806.51 L472.07,806.65 L473.35,806.84 L474.63,807.09 L475.91,807.40 L477.19,807.76 L478.47,808.19 L479.75,808.67 L481.04,809.20 L482.32,809.79 L483.60,810.44 L484.88,811.14 L486.16,811.89 L487.44,812.69 L488.72,813.55 L490.00,814.45 L491.28,815.41 L492.56,816.41 L493.85,817.45 L495.13,818.54 L496.41,819.68 L497.69,820.86 L498.97,822.07 L500.25,823.33 L501.53,824.62 L502.81,825.95 L504.09,827.32 L505.38,828.72 L506.66,830.14 L507.94,831.60 L509.22,833.08 L510.50,834.59 L511.78,836.12 L513.06,837.68 L514.34,839.25 L515.62,840.84 L516.90,842.45 L518.18,844.07 L519.47,845.70 L520.75,847.34 L522.03,848.99 L523.31,850.64 L524.59,852.30 L525.87,853.96 L527.15,855.62 L528.43,857.27 L529.71,858.92 L531.00,860.57 L532.28,862.20 L533.56,863.82 L534.84,865.43 L536.12,867.03 L537.40,868.61 L538.68,870.16 L539.96,871.70 L541.24,873.22 L542.52,874.71 L543.81,876.17 L545.09,877.61 L546.37,879.01 L547.65,880.38 L548.93,881.72 L550.21,883.03 L551.49,884.30 L552.77,885.52 L554.05,886.71 L555.33,887.86 L556.62,888.96 L557.90,890.03 L559.18,891.04 L560.46,892.01 L561.74,892.93 L563.02,893.80 L564.30,894.62 L565.58,895.39 L566.86,896.10 L568.14,896.77 L569.42,897.38 L570.71,897.93 L571.99,898.43 L573.27,898.88 L574.55,899.26 L575.83,899.59 L577.11,899.87 L578.39,900.08 L579.67,900.24 L580.95,900.34 L582.24,900.38 L583.52,900.36 L584.80,900.29 L586.08,900.15 L587.36,899.96 L588.64,899.71 L589.92,899.40 L591.20,899.04 L592.48,898.62 L593.76,898.14 L595.04,897.61 L596.33,897.02 L597.61,896.38 L598.89,895.69 L600.17,894.94 L601.45,894.15 L602.73,893.30 L604.01,892.40 L605.29,891.45 L606.57,890.46 L607.86,889.42 L609.14,888.34 L610.42,887.21 L611.70,886.04 L612.98,884.83 L614.26,883.59 L615.54,882.30 L616.82,880.98 L618.10,879.63 L619.38,878.24 L620.66,876.82 L621.95,875.37 L623.23,873.90 L624.51,872.40 L625.79,870.88 L627.07,869.34 L628.35,867.77 L629.63,866.19 L630.91,864.59 L632.19,862.98 L633.48,861.36 L634.76,859.73 L636.04,858.09 L637.32,856.44 L638.60,854.79 L639.88,853.14 L641.16,851.49 L642.44,849.84 L643.72,848.20 L645.00,846.56 L646.28,844.93 L647.57,843.31 L648.85,841.71 L650.13,840.12 L651.41,838.54 L652.69,836.99 L653.97,835.45 L655.25,833.94 L656.53,832.45 L657.81,830.98 L659.10,829.55 L660.38,828.14 L661.66,826.77 L662.94,825.42 L664.22,824.12 L665.50,822.84" fill="none" stroke="#f00" stroke-width="2.0" stroke-linejoin="round" stroke-dasharray="5.95,1.02,3.40,1.02" clip-path="url(#c5)"/>
<ellipse cx="432.59" cy="827.74" rx="2.16" ry="2.77" fill="none" stroke="#f00" stroke-width="1.8"/>
<ellipse cx="484.35" cy="810.84" rx="2.16" ry="2.77" fill="none" stroke="#f00" stroke-width="1.8"/>
<ellipse cx="536.10" cy="867.01" rx="2.16" ry="2.77" fill="none" stroke="#f00" stroke-width="1.8"/>
<ellipse cx="587.86" cy="899.87" rx="2.16" ry="2.77" fill="none" stroke="#f00" stroke-width="1.8"/>
<ellipse cx="639.62" cy="853.48" rx="2.16" ry="2.77" fill="none" stroke="#f00" stroke-width="1.8"/>
<path d="M409.30,845.90 L410.58,849.62 L411.86,853.35 L413.14,857.07 L414.42,860.79 L415.70,864.50 L416.99,868.20 L418.27,871.88 L419.55,875.53 L420.83,879.15 L422.11,882.75 L423.39,886.30 L424.67,889.81 L425.95,893.28 L427.23,896.69 L428.51,900.05 L429.80,903.35 L431.08,906.59 L432.36,909.75 L433.64,912.85 L434.92,915.87 L436.20,918.82 L437.48,921.67 L438.76,924.45 L440.04,927.13 L441.32,929.72 L442.61,932.21 L443.89,934.60 L445.17,936.89 L446.45,939.08 L447.73,941.16 L449.01,943.12 L450.29,944.97 L451.57,946.71 L452.85,948.33 L454.13,949.83 L455.42,951.21 L456.70,952.46 L457.98,953.59 L459.26,954.60 L460.54,955.47 L461.82,956.22 L463.10,956.84 L464.38,957.33 L465.66,957.69 L466.94,957.92 L468.23,958.01 L469.51,957.98 L470.79,957.81 L472.07,957.51 L473.35,957.09 L474.63,956.53 L475.91,955.84 L477.19,955.03 L478.47,954.09 L479.75,953.02 L481.04,951.83 L482.32,950.51 L483.60,949.07 L484.88,947.52 L486.16,945.84 L487.44,944.06 L488.72,942.15 L490.00,940.14 L491.28,938.02 L492.56,935.79 L493.85,933.47 L495.13,931.04 L496.41,928.51 L497.69,925.89 L498.97,923.19 L500.25,920.39 L501.53,917.51 L502.81,914.56 L504.09,911.52 L505.38,908.42 L506.66,905.24 L507.94,902.01 L509.22,898.71 L510.50,895.36 L511.78,891.95 L513.06,888.50 L514.34,885.00 L515.62,881.47 L516.90,877.90 L518.18,874.30 L519.47,870.67 L520.75,867.03 L522.03,863.37 L523.31,859.69 L524.59,856.01 L525.87,852.33 L527.15,848.64 L528.43,844.97 L529.71,841.30 L531.00,837.65 L532.28,834.02 L533.56,830.42 L534.84,826.84 L536.12,823.30 L537.40,819.79 L538.68,816.33 L539.96,812.91 L541.24,809.55 L542.52,806.24 L543.81,802.98 L545.09,799.79 L546.37,796.67 L547.65,793.62 L548.93,790.64 L550.21,787.74 L551.49,784.92 L552.77,782.18 L554.05,779.54 L555.33,776.98 L556.62,774.52 L557.90,772.16 L559.18,769.89 L560.46,767.73 L561.74,765.68 L563.02,763.73 L564.30,761.90 L565.58,760.18 L566.86,758.57 L568.14,757.08 L569.42,755.71 L570.71,754.46 L571.99,753.33 L573.27,752.32 L574.55,751.44 L575.83,750.68 L577.11,750.05 L578.39,749.54 L579.67,749.17 L580.95,748.92 L582.24,748.80 L583.52,748.80 L584.80,748.94 L586.08,749.20 L587.36,749.60 L588.64,750.11 L589.92,750.76 L591.20,751.53 L592.48,752.42 L593.76,753.44 L595.04,754.58 L596.33,755.84 L597.61,757.22 L598.89,758.72 L600.17,760.33 L601.45,762.06 L602.73,763.90 L604.01,765.84 L605.29,767.90 L606.57,770.06 L607.86,772.31 L609.14,774.67 L610.42,777.12 L611.70,779.67 L612.98,782.30 L614.26,785.03 L615.54,787.83 L616.82,790.71 L618.10,793.67 L619.38,796.71 L620.66,799.81 L621.95,802.97 L623.23,806.20 L624.51,809.48 L625.79,812.82 L627.07,816.20 L628.35,819.63 L629.63,823.10 L630.91,826.61 L632.19,830.15 L633.48,833.71 L634.76,837.30 L636.04,840.91 L637.32,844.54 L638.60,848.17 L639.88,851.81 L641.16,855.45 L642.44,859.09 L643.72,862.72 L645.00,866.34 L646.28,869.94 L647.57,873.52 L648.85,877.08 L650.13,880.61 L651.41,884.10 L652.69,887.56 L653.97,890.98 L655.25,894.35 L656.53,897.67 L657.81,900.93 L659.10,904.14 L660.38,907.29 L661.66,910.37 L662.94,913.38 L664.22,916.32 L665.50,919.19" fill="none" stroke="#00f" stroke-width="2.0" stroke-linejoin="round" stroke-dasharray="6.80,5.10" clip-path="url(#c5)"/>
<polygon points="432.59,906.31 434.89,910.32 432.59,914.33 430.29,910.32" fill="none" stroke="#00f" stroke-width="1.7" stroke-linejoin="miter"/>
<polygon points="484.35,944.17 486.65,948.18 484.35,952.19 482.04,948.18" fill="none" stroke="#00f" stroke-width="1.7" stroke-linejoin="miter"/>
<polygon points="536.10,819.33 538.41,823.34 536.10,827.35 533.80,823.34" fill="none" stroke="#00f" stroke-width="1.7" stroke-linejoin="miter"/>
<polygon points="587.86,745.77 590.16,749.78 587.86,753.80 585.56,749.78" fill="none" stroke="#00f" stroke-width="1.7" stroke-linejoin="miter"/>
<polygon points="639.62,847.05 641.92,851.07 639.62,855.08 637.32,851.07" fill="none" stroke="#00f" stroke-width="1.7" stroke-linejoin="miter"/>
<path d="M409.30,975.50 V973.18 M409.30,731.30 V733.62" stroke="#858585" stroke-width="0.8"/>
<text x="0" y="0" font-size="10.00" text-anchor="middle" transform="translate(409.30,989.98) scale(0.823,1)">0</text>
<path d="M434.92,975.50 V973.18 M434.92,731.30 V733.62" stroke="#858585" stroke-width="0.8"/>
<text x="0" y="0" font-size="10.00" text-anchor="middle" transform="translate(434.92,989.98) scale(0.823,1)">0.5</text>
<path d="M460.54,975.50 V973.18 M460.54,731.30 V733.62" stroke="#858585" stroke-width="0.8"/>
<text x="0" y="0" font-size="10.00" text-anchor="middle" transform="translate(460.54,989.98) scale(0.823,1)">1</text>
<path d="M486.16,975.50 V973.18 M486.16,731.30 V733.62" stroke="#858585" stroke-width="0.8"/>
<text x="0" y="0" font-size="10.00" text-anchor="middle" transform="translate(486.16,989.98) scale(0.823,1)">1.5</text>
<path d="M511.78,975.50 V973.18 M511.78,731.30 V733.62" stroke="#858585" stroke-width="0.8"/>
<text x="0" y="0" font-size="10.00" text-anchor="middle" transform="translate(511.78,989.98) scale(0.823,1)">2</text>
<path d="M537.40,975.50 V973.18 M537.40,731.30 V733.62" stroke="#858585" stroke-width="0.8"/>
<text x="0" y="0" font-size="10.00" text-anchor="middle" transform="translate(537.40,989.98) scale(0.823,1)">2.5</text>
<path d="M563.02,975.50 V973.18 M563.02,731.30 V733.62" stroke="#858585" stroke-width="0.8"/>
<text x="0" y="0" font-size="10.00" text-anchor="middle" transform="translate(563.02,989.98) scale(0.823,1)">3</text>
<path d="M588.64,975.50 V973.18 M588.64,731.30 V733.62" stroke="#858585" stroke-width="0.8"/>
<text x="0" y="0" font-size="10.00" text-anchor="middle" transform="translate(588.64,989.98) scale(0.823,1)">3.5</text>
<path d="M614.26,975.50 V973.18 M614.26,731.30 V733.62" stroke="#858585" stroke-width="0.8"/>
<text x="0" y="0" font-size="10.00" text-anchor="middle" transform="translate(614.26,989.98) scale(0.823,1)">4</text>
<path d="M639.88,975.50 V973.18 M639.88,731.30 V733.62" stroke="#858585" stroke-width="0.8"/>
<text x="0" y="0" font-size="10.00" text-anchor="middle" transform="translate(639.88,989.98) scale(0.823,1)">4.5</text>
<path d="M665.50,975.50 V973.18 M665.50,731.30 V733.62" stroke="#858585" stroke-width="0.8"/>
<text x="0" y="0" font-size="10.00" text-anchor="middle" transform="translate(665.50,989.98) scale(0.823,1)">5</text>
<path d="M409.30,975.50 H411.74 M665.50,975.50 H663.06" stroke="#858585" stroke-width="0.8"/>
<text x="0" y="0" font-size="10.00" text-anchor="end" transform="translate(405.46,979.88) scale(0.823,1)">-3</text>
<path d="M409.30,934.80 H411.74 M665.50,934.80 H663.06" stroke="#858585" stroke-width="0.8"/>
<text x="0" y="0" font-size="10.00" text-anchor="end" transform="translate(405.46,939.18) scale(0.823,1)">-2</text>
<path d="M409.30,894.10 H411.74 M665.50,894.10 H663.06" stroke="#858585" stroke-width="0.8"/>
<text x="0" y="0" font-size="10.00" text-anchor="end" transform="translate(405.46,898.48) scale(0.823,1)">-1</text>
<path d="M409.30,853.40 H411.74 M665.50,853.40 H663.06" stroke="#858585" stroke-width="0.8"/>
<text x="0" y="0" font-size="10.00" text-anchor="end" transform="translate(405.46,857.78) scale(0.823,1)">0</text>
<path d="M409.30,812.70 H411.74 M665.50,812.70 H663.06" stroke="#858585" stroke-width="0.8"/>
<text x="0" y="0" font-size="10.00" text-anchor="end" transform="translate(405.46,817.08) scale(0.823,1)">1</text>
<path d="M409.30,772.00 H411.74 M665.50,772.00 H663.06" stroke="#858585" stroke-width="0.8"/>
<text x="0" y="0" font-size="10.00" text-anchor="end" transform="translate(405.46,776.38) scale(0.823,1)">2</text>
<path d="M409.30,731.30 H411.74 M665.50,731.30 H663.06" stroke="#858585" stroke-width="0.8"/>
<text x="0" y="0" font-size="10.00" text-anchor="end" transform="translate(405.46,735.68) scale(0.823,1)">3</text>
<text x="0" y="0" font-size="10.00" text-anchor="middle" transform="translate(537.40,1003.40) scale(0.823,1)">x</text>
<g transform="translate(393.10,857.70) rotate(-90) scale(1,0.844)"><text x="0.00" y="0.00" font-size="10.00" >C</text></g>
<rect x="600.80" y="921.50" width="60.90" height="48.10" fill="#fff" stroke="#858585" stroke-width="1"/>
<line x1="603.24" y1="929.70" x2="626.97" y2="929.70" stroke="#000" stroke-width="2.1"/>
<polygon points="614.93,925.89 613.92,927.72 612.01,927.80 612.91,929.70 612.01,931.60 613.92,931.68 614.93,933.51 615.94,931.68 617.85,931.60 616.95,929.70 617.85,927.80 615.94,927.72" fill="#000" stroke="#000" stroke-width="0.9"/>
<text x="0" y="0" font-size="8.93" transform="translate(628.37,932.68) scale(0.823,1)">L<tspan dy="3.81" font-size="6.95">N</tspan><tspan dy="-3.81">=0</tspan></text>
<path d="M603.24,944.60 H608.83 M610.40,944.60 H612.84 M614.67,944.60 H619.82 M621.04,944.60 H624.27 M625.57,944.60 H626.97" stroke="#f00" stroke-width="2.1"/>
<ellipse cx="614.93" cy="944.60" rx="2.16" ry="2.77" fill="none" stroke="#f00" stroke-width="1.8"/>
<text x="0" y="0" font-size="8.93" transform="translate(628.37,947.58) scale(0.823,1)">L<tspan dy="3.81" font-size="6.95">N</tspan><tspan dy="-3.81">=0.002</tspan></text>
<path d="M603.24,960.40 H609.09 M614.67,960.40 H620.60 M625.49,960.40 H626.97" stroke="#00f" stroke-width="2.1"/>
<polygon points="614.93,956.39 617.23,960.40 614.93,964.41 612.63,960.40" fill="none" stroke="#00f" stroke-width="1.7" stroke-linejoin="miter"/>
<text x="0" y="0" font-size="8.93" transform="translate(628.37,963.38) scale(0.823,1)">L<tspan dy="3.81" font-size="6.95">N</tspan><tspan dy="-3.81">=0.003</tspan></text>
<circle cx="361.4" cy="687.7" r="0.6" fill="#777"/>
</g>
</svg></body></html>
